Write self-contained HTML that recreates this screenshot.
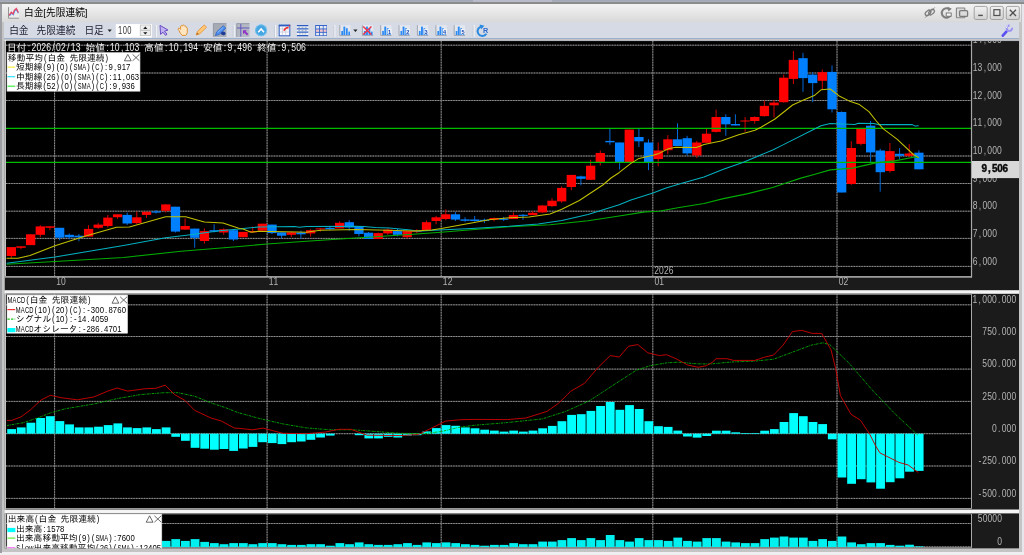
<!DOCTYPE html>
<html lang="ja"><head><meta charset="utf-8"><title>白金[先限連続]</title><style>
html,body{margin:0;padding:0}
body{width:1024px;height:555px;overflow:hidden;position:relative;background:#e6e6ec;
 font-family:"Liberation Sans","Noto Sans CJK JP",sans-serif}
.abs{position:absolute}
#top{left:0;top:0;width:1024px;height:3.6px;background:linear-gradient(#a2a7b6,#a8adba 40%,#8e8e90 52%,#8a8a8a 88%,#b0b0b0);z-index:3}
#bot{left:0;top:551.6px;width:1024px;height:4px;background:#efeff1}
#lft{left:0;top:0;width:1.8px;height:553px;background:#9c9ea4}
#frame{left:1.8px;top:2.8px;width:1020.2px;height:548.8px;background:#c4c4c4}
#title{left:2.4px;top:3.2px;width:1018.6px;height:19.2px;background:linear-gradient(#f4f4f4,#e9e9e9 42%,#d9d9d9)}
#tool{left:4.4px;top:22.4px;width:1014.8px;height:16.2px;background:#d5dae4;border-bottom:0.8px solid #9fb0cc;box-sizing:border-box}
.t{position:absolute;white-space:nowrap;line-height:1}
</style></head>
<body>
<div id="top" class="abs"></div>
<div class="abs" style="left:473px;top:0;width:79px;height:1.7px;background:#b8bcc8;z-index:4"></div>
<div id="bot" class="abs"></div>
<div id="frame" class="abs"></div>
<div id="lft" class="abs"></div>
<div id="title" class="abs"></div>
<div id="tool" class="abs"></div>
<svg width="1024" height="555" viewBox="0 0 1024 555" style="position:absolute;left:0;top:0" font-family='"Liberation Sans","IPAGothic",sans-serif'>
<rect x="4.7" y="40.0" width="1014.3" height="508.4" fill="#f4f4f4"/>
<rect x="4.7" y="41.0" width="1014.3" height="249.2" fill="#1b1b1b"/>
<rect x="4.7" y="293.8" width="1014.3" height="215.7" fill="#1b1b1b"/>
<rect x="4.7" y="513.4" width="1014.3" height="35.0" fill="#1b1b1b"/>
<rect x="4.7" y="41.0" width="1.2999999999999998" height="236.4" fill="#c2c2c2"/>
<rect x="4.7" y="293.8" width="1.2999999999999998" height="215.7" fill="#c2c2c2"/>
<rect x="4.7" y="513.4" width="1.2999999999999998" height="35.0" fill="#c2c2c2"/>
<rect x="6.0" y="41.0" width="965.5" height="235.6" fill="#000"/>
<rect x="6.0" y="293.8" width="965.5" height="214.8" fill="#000"/>
<rect x="6.0" y="513.4" width="965.5" height="34.4" fill="#000"/>
<defs><clipPath id="cm"><rect x="6.0" y="41.0" width="965.5" height="235.60000000000002"/></clipPath><clipPath id="ck"><rect x="6.0" y="293.8" width="965.5" height="214.8"/></clipPath><clipPath id="cv"><rect x="6.0" y="513.4" width="965.5" height="34.39999999999998"/></clipPath><clipPath id="ca"><rect x="971.5" y="41.0" width="47.5" height="249.2"/></clipPath></defs>
<g clip-path="url(#cm)">
<line x1="6.0" x2="971.5" y1="45.2" y2="45.2" stroke="#606060" stroke-width="0.75"/>
<line x1="6.0" x2="971.5" y1="45.2" y2="45.2" stroke="#a8a8a8" stroke-width="0.75" stroke-dasharray="1.4,1.2"/>
<line x1="6.0" x2="971.5" y1="73.0" y2="73.0" stroke="#606060" stroke-width="0.75"/>
<line x1="6.0" x2="971.5" y1="73.0" y2="73.0" stroke="#a8a8a8" stroke-width="0.75" stroke-dasharray="1.4,1.2"/>
<line x1="6.0" x2="971.5" y1="100.5" y2="100.5" stroke="#606060" stroke-width="0.75"/>
<line x1="6.0" x2="971.5" y1="100.5" y2="100.5" stroke="#a8a8a8" stroke-width="0.75" stroke-dasharray="1.4,1.2"/>
<line x1="6.0" x2="971.5" y1="156.0" y2="156.0" stroke="#606060" stroke-width="0.75"/>
<line x1="6.0" x2="971.5" y1="156.0" y2="156.0" stroke="#a8a8a8" stroke-width="0.75" stroke-dasharray="1.4,1.2"/>
<line x1="6.0" x2="971.5" y1="183.5" y2="183.5" stroke="#606060" stroke-width="0.75"/>
<line x1="6.0" x2="971.5" y1="183.5" y2="183.5" stroke="#a8a8a8" stroke-width="0.75" stroke-dasharray="1.4,1.2"/>
<line x1="6.0" x2="971.5" y1="211.2" y2="211.2" stroke="#606060" stroke-width="0.75"/>
<line x1="6.0" x2="971.5" y1="211.2" y2="211.2" stroke="#a8a8a8" stroke-width="0.75" stroke-dasharray="1.4,1.2"/>
<line x1="6.0" x2="971.5" y1="238.4" y2="238.4" stroke="#606060" stroke-width="0.75"/>
<line x1="6.0" x2="971.5" y1="238.4" y2="238.4" stroke="#a8a8a8" stroke-width="0.75" stroke-dasharray="1.4,1.2"/>
<line x1="6.0" x2="971.5" y1="266.4" y2="266.4" stroke="#606060" stroke-width="0.75"/>
<line x1="6.0" x2="971.5" y1="266.4" y2="266.4" stroke="#a8a8a8" stroke-width="0.75" stroke-dasharray="1.4,1.2"/>
<line x1="54.6" x2="54.6" y1="41.0" y2="276.6" stroke="#606060" stroke-width="0.75"/>
<line x1="54.6" x2="54.6" y1="41.0" y2="276.6" stroke="#a8a8a8" stroke-width="0.75" stroke-dasharray="1.4,1.2"/>
<line x1="267.1" x2="267.1" y1="41.0" y2="276.6" stroke="#606060" stroke-width="0.75"/>
<line x1="267.1" x2="267.1" y1="41.0" y2="276.6" stroke="#a8a8a8" stroke-width="0.75" stroke-dasharray="1.4,1.2"/>
<line x1="441.2" x2="441.2" y1="41.0" y2="276.6" stroke="#606060" stroke-width="0.75"/>
<line x1="441.2" x2="441.2" y1="41.0" y2="276.6" stroke="#a8a8a8" stroke-width="0.75" stroke-dasharray="1.4,1.2"/>
<line x1="652.8" x2="652.8" y1="41.0" y2="276.6" stroke="#606060" stroke-width="0.75"/>
<line x1="652.8" x2="652.8" y1="41.0" y2="276.6" stroke="#a8a8a8" stroke-width="0.75" stroke-dasharray="1.4,1.2"/>
<line x1="837.0" x2="837.0" y1="41.0" y2="276.6" stroke="#606060" stroke-width="0.75"/>
<line x1="837.0" x2="837.0" y1="41.0" y2="276.6" stroke="#a8a8a8" stroke-width="0.75" stroke-dasharray="1.4,1.2"/>
<line x1="11.3" x2="11.3" y1="247.1" y2="258.0" stroke="#d00000" stroke-width="1"/>
<rect x="6.70" y="247.1" width="9.3" height="8.9" fill="#ff0000"/>
<line x1="21.0" x2="21.0" y1="246.3" y2="249.2" stroke="#d00000" stroke-width="1"/>
<rect x="16.36" y="246.3" width="9.3" height="1.5" fill="#ff0000"/>
<line x1="30.6" x2="30.6" y1="234.3" y2="245.1" stroke="#d00000" stroke-width="1"/>
<rect x="26.01" y="234.3" width="9.3" height="10.8" fill="#ff0000"/>
<line x1="40.3" x2="40.3" y1="225.2" y2="237.3" stroke="#d00000" stroke-width="1"/>
<rect x="35.66" y="226.4" width="9.3" height="8.4" fill="#ff0000"/>
<line x1="49.9" x2="49.9" y1="226.3" y2="230.2" stroke="#d00000" stroke-width="1"/>
<rect x="45.32" y="226.3" width="9.3" height="1.5" fill="#ff0000"/>
<line x1="59.6" x2="59.6" y1="227.8" y2="240.4" stroke="#0068d8" stroke-width="1"/>
<rect x="54.98" y="227.8" width="9.3" height="9.9" fill="#0080ff"/>
<line x1="69.2" x2="69.2" y1="233.4" y2="239.3" stroke="#0068d8" stroke-width="1"/>
<rect x="64.63" y="234.8" width="9.3" height="2.5" fill="#0080ff"/>
<line x1="78.9" x2="78.9" y1="234.0" y2="241.3" stroke="#0068d8" stroke-width="1"/>
<rect x="74.28" y="235.7" width="9.3" height="1.6" fill="#0080ff"/>
<line x1="88.5" x2="88.5" y1="225.2" y2="236.6" stroke="#d00000" stroke-width="1"/>
<rect x="83.94" y="228.9" width="9.3" height="7.7" fill="#ff0000"/>
<line x1="98.2" x2="98.2" y1="222.9" y2="228.7" stroke="#d00000" stroke-width="1"/>
<rect x="93.59" y="224.6" width="9.3" height="3.2" fill="#ff0000"/>
<line x1="107.8" x2="107.8" y1="215.0" y2="227.5" stroke="#d00000" stroke-width="1"/>
<rect x="103.25" y="217.6" width="9.3" height="8.4" fill="#ff0000"/>
<line x1="117.5" x2="117.5" y1="214.3" y2="218.8" stroke="#d00000" stroke-width="1"/>
<rect x="112.91" y="214.3" width="9.3" height="2.9" fill="#ff0000"/>
<line x1="127.2" x2="127.2" y1="212.6" y2="224.9" stroke="#0068d8" stroke-width="1"/>
<rect x="122.56" y="214.9" width="9.3" height="8.6" fill="#0080ff"/>
<line x1="136.8" x2="136.8" y1="211.4" y2="224.0" stroke="#d00000" stroke-width="1"/>
<rect x="132.21" y="217.3" width="9.3" height="5.8" fill="#ff0000"/>
<line x1="146.5" x2="146.5" y1="211.8" y2="218.1" stroke="#d00000" stroke-width="1"/>
<rect x="141.87" y="211.8" width="9.3" height="3.1" fill="#ff0000"/>
<line x1="156.1" x2="156.1" y1="210.0" y2="213.4" stroke="#0068d8" stroke-width="1"/>
<rect x="151.52" y="211.4" width="9.3" height="1.2" fill="#0080ff"/>
<line x1="165.8" x2="165.8" y1="204.4" y2="212.6" stroke="#d00000" stroke-width="1"/>
<rect x="161.18" y="204.4" width="9.3" height="6.4" fill="#ff0000"/>
<line x1="175.4" x2="175.4" y1="206.7" y2="232.5" stroke="#0068d8" stroke-width="1"/>
<rect x="170.83" y="206.7" width="9.3" height="24.9" fill="#0080ff"/>
<line x1="185.1" x2="185.1" y1="218.4" y2="229.6" stroke="#d00000" stroke-width="1"/>
<rect x="180.49" y="226.0" width="9.3" height="3.6" fill="#ff0000"/>
<line x1="194.7" x2="194.7" y1="228.6" y2="247.7" stroke="#0068d8" stroke-width="1"/>
<rect x="190.14" y="228.6" width="9.3" height="9.2" fill="#0080ff"/>
<line x1="204.4" x2="204.4" y1="228.4" y2="243.6" stroke="#d00000" stroke-width="1"/>
<rect x="199.80" y="231.1" width="9.3" height="9.9" fill="#ff0000"/>
<line x1="214.1" x2="214.1" y1="224.3" y2="232.5" stroke="#0068d8" stroke-width="1"/>
<rect x="209.45" y="230.2" width="9.3" height="1.4" fill="#0080ff"/>
<line x1="223.7" x2="223.7" y1="228.4" y2="234.8" stroke="#d00000" stroke-width="1"/>
<rect x="219.11" y="229.3" width="9.3" height="3.2" fill="#ff0000"/>
<line x1="233.4" x2="233.4" y1="229.0" y2="241.0" stroke="#0068d8" stroke-width="1"/>
<rect x="228.76" y="230.2" width="9.3" height="9.3" fill="#0080ff"/>
<line x1="243.0" x2="243.0" y1="231.9" y2="237.2" stroke="#d00000" stroke-width="1"/>
<rect x="238.42" y="231.9" width="9.3" height="5.3" fill="#ff0000"/>
<line x1="252.7" x2="252.7" y1="226.6" y2="233.0" stroke="#d00000" stroke-width="1"/>
<rect x="248.07" y="231.0" width="9.3" height="1.3" fill="#ff0000"/>
<line x1="262.3" x2="262.3" y1="223.7" y2="230.7" stroke="#d00000" stroke-width="1"/>
<rect x="257.73" y="223.7" width="9.3" height="7.0" fill="#ff0000"/>
<line x1="272.0" x2="272.0" y1="224.6" y2="234.0" stroke="#0068d8" stroke-width="1"/>
<rect x="267.38" y="224.6" width="9.3" height="8.5" fill="#0080ff"/>
<line x1="281.6" x2="281.6" y1="232.3" y2="238.6" stroke="#0068d8" stroke-width="1"/>
<rect x="277.04" y="232.3" width="9.3" height="3.4" fill="#0080ff"/>
<line x1="291.3" x2="291.3" y1="231.6" y2="237.2" stroke="#d00000" stroke-width="1"/>
<rect x="286.69" y="232.3" width="9.3" height="2.5" fill="#ff0000"/>
<line x1="300.9" x2="300.9" y1="230.7" y2="238.9" stroke="#0068d8" stroke-width="1"/>
<rect x="296.35" y="232.5" width="9.3" height="1.8" fill="#0080ff"/>
<line x1="310.6" x2="310.6" y1="229.2" y2="236.6" stroke="#d00000" stroke-width="1"/>
<rect x="306.00" y="230.2" width="9.3" height="3.2" fill="#ff0000"/>
<line x1="320.3" x2="320.3" y1="228.4" y2="231.6" stroke="#d00000" stroke-width="1"/>
<rect x="315.66" y="228.4" width="9.3" height="1.0" fill="#ff0000"/>
<line x1="329.9" x2="329.9" y1="226.0" y2="230.0" stroke="#0068d8" stroke-width="1"/>
<rect x="325.31" y="227.8" width="9.3" height="1.4" fill="#0080ff"/>
<line x1="339.6" x2="339.6" y1="221.4" y2="228.4" stroke="#d00000" stroke-width="1"/>
<rect x="334.97" y="222.8" width="9.3" height="5.6" fill="#ff0000"/>
<line x1="349.2" x2="349.2" y1="220.2" y2="230.7" stroke="#0068d8" stroke-width="1"/>
<rect x="344.62" y="222.2" width="9.3" height="5.4" fill="#0080ff"/>
<line x1="358.9" x2="358.9" y1="226.0" y2="236.3" stroke="#0068d8" stroke-width="1"/>
<rect x="354.28" y="226.0" width="9.3" height="8.0" fill="#0080ff"/>
<line x1="368.5" x2="368.5" y1="232.0" y2="239.0" stroke="#0068d8" stroke-width="1"/>
<rect x="363.93" y="232.7" width="9.3" height="6.3" fill="#0080ff"/>
<line x1="378.2" x2="378.2" y1="232.6" y2="239.0" stroke="#d00000" stroke-width="1"/>
<rect x="373.59" y="233.1" width="9.3" height="5.9" fill="#ff0000"/>
<line x1="387.8" x2="387.8" y1="228.4" y2="234.8" stroke="#d00000" stroke-width="1"/>
<rect x="383.24" y="229.6" width="9.3" height="3.8" fill="#ff0000"/>
<line x1="397.5" x2="397.5" y1="229.0" y2="236.3" stroke="#0068d8" stroke-width="1"/>
<rect x="392.90" y="231.1" width="9.3" height="3.7" fill="#0080ff"/>
<line x1="407.2" x2="407.2" y1="231.1" y2="238.4" stroke="#d00000" stroke-width="1"/>
<rect x="402.55" y="231.1" width="9.3" height="6.1" fill="#ff0000"/>
<line x1="416.8" x2="416.8" y1="229.2" y2="233.1" stroke="#d00000" stroke-width="1"/>
<rect x="412.21" y="231.1" width="9.3" height="1.0" fill="#ff0000"/>
<line x1="426.5" x2="426.5" y1="220.5" y2="229.9" stroke="#d00000" stroke-width="1"/>
<rect x="421.86" y="222.2" width="9.3" height="7.7" fill="#ff0000"/>
<line x1="436.1" x2="436.1" y1="215.9" y2="224.3" stroke="#d00000" stroke-width="1"/>
<rect x="431.52" y="217.3" width="9.3" height="3.7" fill="#ff0000"/>
<line x1="445.8" x2="445.8" y1="209.3" y2="220.2" stroke="#d00000" stroke-width="1"/>
<rect x="441.17" y="214.3" width="9.3" height="4.7" fill="#ff0000"/>
<line x1="455.4" x2="455.4" y1="212.0" y2="221.0" stroke="#0068d8" stroke-width="1"/>
<rect x="450.83" y="214.3" width="9.3" height="5.3" fill="#0080ff"/>
<line x1="465.1" x2="465.1" y1="217.3" y2="221.7" stroke="#0068d8" stroke-width="1"/>
<rect x="460.48" y="219.4" width="9.3" height="1.4" fill="#0080ff"/>
<line x1="474.7" x2="474.7" y1="216.0" y2="221.6" stroke="#0068d8" stroke-width="1"/>
<rect x="470.14" y="219.5" width="9.3" height="1.5" fill="#0080ff"/>
<line x1="484.4" x2="484.4" y1="218.6" y2="223.0" stroke="#0068d8" stroke-width="1"/>
<rect x="479.79" y="219.8" width="9.3" height="1.2" fill="#0080ff"/>
<line x1="494.0" x2="494.0" y1="217.6" y2="221.3" stroke="#d00000" stroke-width="1"/>
<rect x="489.45" y="218.0" width="9.3" height="1.8" fill="#ff0000"/>
<line x1="503.7" x2="503.7" y1="216.9" y2="221.0" stroke="#0068d8" stroke-width="1"/>
<rect x="499.10" y="218.6" width="9.3" height="1.2" fill="#0080ff"/>
<line x1="513.4" x2="513.4" y1="212.4" y2="219.0" stroke="#d00000" stroke-width="1"/>
<rect x="508.76" y="215.1" width="9.3" height="3.9" fill="#ff0000"/>
<line x1="523.0" x2="523.0" y1="214.0" y2="219.8" stroke="#0068d8" stroke-width="1"/>
<rect x="518.41" y="214.8" width="9.3" height="1.1" fill="#0080ff"/>
<line x1="532.7" x2="532.7" y1="211.0" y2="215.1" stroke="#d00000" stroke-width="1"/>
<rect x="528.07" y="212.8" width="9.3" height="2.3" fill="#ff0000"/>
<line x1="542.3" x2="542.3" y1="205.0" y2="212.8" stroke="#d00000" stroke-width="1"/>
<rect x="537.73" y="205.5" width="9.3" height="6.9" fill="#ff0000"/>
<line x1="552.0" x2="552.0" y1="198.1" y2="206.9" stroke="#d00000" stroke-width="1"/>
<rect x="547.38" y="200.7" width="9.3" height="5.4" fill="#ff0000"/>
<line x1="561.6" x2="561.6" y1="186.4" y2="202.8" stroke="#d00000" stroke-width="1"/>
<rect x="557.03" y="187.9" width="9.3" height="13.5" fill="#ff0000"/>
<line x1="571.3" x2="571.3" y1="174.9" y2="190.2" stroke="#d00000" stroke-width="1"/>
<rect x="566.69" y="174.9" width="9.3" height="12.1" fill="#ff0000"/>
<line x1="580.9" x2="580.9" y1="175.6" y2="185.2" stroke="#0068d8" stroke-width="1"/>
<rect x="576.35" y="176.4" width="9.3" height="2.4" fill="#0080ff"/>
<line x1="590.6" x2="590.6" y1="159.8" y2="179.8" stroke="#d00000" stroke-width="1"/>
<rect x="586.00" y="165.7" width="9.3" height="14.1" fill="#ff0000"/>
<line x1="600.3" x2="600.3" y1="150.5" y2="165.5" stroke="#d00000" stroke-width="1"/>
<rect x="595.65" y="153.0" width="9.3" height="9.2" fill="#ff0000"/>
<line x1="609.9" x2="609.9" y1="128.8" y2="144.8" stroke="#0068d8" stroke-width="1"/>
<rect x="605.31" y="140.9" width="9.3" height="1.4" fill="#0080ff"/>
<line x1="619.6" x2="619.6" y1="142.5" y2="169.5" stroke="#0068d8" stroke-width="1"/>
<rect x="614.97" y="142.5" width="9.3" height="19.7" fill="#0080ff"/>
<line x1="629.2" x2="629.2" y1="129.6" y2="163.0" stroke="#d00000" stroke-width="1"/>
<rect x="624.62" y="129.6" width="9.3" height="32.6" fill="#ff0000"/>
<line x1="638.9" x2="638.9" y1="128.8" y2="147.0" stroke="#0068d8" stroke-width="1"/>
<rect x="634.27" y="137.0" width="9.3" height="4.3" fill="#0080ff"/>
<line x1="648.5" x2="648.5" y1="139.3" y2="170.2" stroke="#0068d8" stroke-width="1"/>
<rect x="643.93" y="142.5" width="9.3" height="19.9" fill="#0080ff"/>
<line x1="658.2" x2="658.2" y1="142.3" y2="166.3" stroke="#d00000" stroke-width="1"/>
<rect x="653.59" y="150.5" width="9.3" height="8.5" fill="#ff0000"/>
<line x1="667.8" x2="667.8" y1="135.2" y2="154.2" stroke="#d00000" stroke-width="1"/>
<rect x="663.24" y="139.3" width="9.3" height="10.9" fill="#ff0000"/>
<line x1="677.5" x2="677.5" y1="123.3" y2="146.0" stroke="#0068d8" stroke-width="1"/>
<rect x="672.89" y="139.3" width="9.3" height="6.7" fill="#0080ff"/>
<line x1="687.1" x2="687.1" y1="135.8" y2="155.7" stroke="#0068d8" stroke-width="1"/>
<rect x="682.55" y="138.2" width="9.3" height="15.2" fill="#0080ff"/>
<line x1="696.8" x2="696.8" y1="140.9" y2="158.1" stroke="#d00000" stroke-width="1"/>
<rect x="692.21" y="142.5" width="9.3" height="13.0" fill="#ff0000"/>
<line x1="706.5" x2="706.5" y1="129.0" y2="142.8" stroke="#d00000" stroke-width="1"/>
<rect x="701.86" y="133.7" width="9.3" height="9.1" fill="#ff0000"/>
<line x1="716.1" x2="716.1" y1="109.6" y2="132.5" stroke="#d00000" stroke-width="1"/>
<rect x="711.51" y="117.0" width="9.3" height="14.9" fill="#ff0000"/>
<line x1="725.8" x2="725.8" y1="114.3" y2="135.8" stroke="#0068d8" stroke-width="1"/>
<rect x="721.17" y="117.0" width="9.3" height="7.3" fill="#0080ff"/>
<line x1="735.4" x2="735.4" y1="114.3" y2="125.5" stroke="#0068d8" stroke-width="1"/>
<rect x="730.83" y="124.0" width="9.3" height="1.5" fill="#0080ff"/>
<line x1="745.1" x2="745.1" y1="117.0" y2="131.6" stroke="#d00000" stroke-width="1"/>
<rect x="740.48" y="120.5" width="9.3" height="1.0" fill="#ff0000"/>
<line x1="754.7" x2="754.7" y1="116.4" y2="123.7" stroke="#d00000" stroke-width="1"/>
<rect x="750.13" y="117.0" width="9.3" height="4.0" fill="#ff0000"/>
<line x1="764.4" x2="764.4" y1="100.6" y2="116.6" stroke="#d00000" stroke-width="1"/>
<rect x="759.79" y="105.9" width="9.3" height="10.2" fill="#ff0000"/>
<line x1="774.0" x2="774.0" y1="99.9" y2="117.5" stroke="#d00000" stroke-width="1"/>
<rect x="769.45" y="102.6" width="9.3" height="2.7" fill="#ff0000"/>
<line x1="783.7" x2="783.7" y1="74.6" y2="102.6" stroke="#d00000" stroke-width="1"/>
<rect x="779.10" y="77.7" width="9.3" height="24.5" fill="#ff0000"/>
<line x1="793.4" x2="793.4" y1="51.1" y2="84.0" stroke="#d00000" stroke-width="1"/>
<rect x="788.75" y="59.9" width="9.3" height="19.0" fill="#ff0000"/>
<line x1="803.0" x2="803.0" y1="52.9" y2="91.8" stroke="#0068d8" stroke-width="1"/>
<rect x="798.41" y="58.2" width="9.3" height="19.9" fill="#0080ff"/>
<line x1="812.7" x2="812.7" y1="72.2" y2="102.1" stroke="#0068d8" stroke-width="1"/>
<rect x="808.06" y="74.6" width="9.3" height="8.5" fill="#0080ff"/>
<line x1="822.3" x2="822.3" y1="69.5" y2="89.2" stroke="#d00000" stroke-width="1"/>
<rect x="817.72" y="72.2" width="9.3" height="8.6" fill="#ff0000"/>
<line x1="832.0" x2="832.0" y1="65.5" y2="112.5" stroke="#0068d8" stroke-width="1"/>
<rect x="827.38" y="71.9" width="9.3" height="37.4" fill="#0080ff"/>
<line x1="841.6" x2="841.6" y1="111.4" y2="192.5" stroke="#0068d8" stroke-width="1"/>
<rect x="837.03" y="112.0" width="9.3" height="80.5" fill="#0080ff"/>
<line x1="851.3" x2="851.3" y1="141.2" y2="184.8" stroke="#d00000" stroke-width="1"/>
<rect x="846.68" y="148.0" width="9.3" height="36.0" fill="#ff0000"/>
<line x1="860.9" x2="860.9" y1="128.0" y2="145.3" stroke="#d00000" stroke-width="1"/>
<rect x="856.34" y="128.7" width="9.3" height="15.2" fill="#ff0000"/>
<line x1="870.6" x2="870.6" y1="121.0" y2="162.3" stroke="#0068d8" stroke-width="1"/>
<rect x="866.00" y="125.7" width="9.3" height="26.7" fill="#0080ff"/>
<line x1="880.2" x2="880.2" y1="148.8" y2="191.6" stroke="#0068d8" stroke-width="1"/>
<rect x="875.65" y="150.5" width="9.3" height="21.7" fill="#0080ff"/>
<line x1="889.9" x2="889.9" y1="143.0" y2="172.6" stroke="#d00000" stroke-width="1"/>
<rect x="885.30" y="151.1" width="9.3" height="19.9" fill="#ff0000"/>
<line x1="899.6" x2="899.6" y1="148.0" y2="159.3" stroke="#0068d8" stroke-width="1"/>
<rect x="894.96" y="153.8" width="9.3" height="2.0" fill="#0080ff"/>
<line x1="909.2" x2="909.2" y1="144.1" y2="157.3" stroke="#d00000" stroke-width="1"/>
<rect x="904.62" y="153.5" width="9.3" height="2.3" fill="#ff0000"/>
<line x1="918.9" x2="918.9" y1="150.3" y2="169.3" stroke="#0068d8" stroke-width="1"/>
<rect x="914.27" y="152.7" width="9.3" height="16.6" fill="#0080ff"/>
<line x1="6.0" x2="971.5" y1="128.3" y2="128.3" stroke="#00bc00" stroke-width="1.25"/>
<line x1="6.0" x2="971.5" y1="162.4" y2="162.4" stroke="#00bc00" stroke-width="1.25"/>
<polyline points="6.6,264.2 55.0,261.5 123.5,257.5 181.0,251.2 239.5,246.5 267.0,244.0 306.3,241.3 355.5,238.0 382.5,236.3 413.0,234.3 441.0,232.3 471.5,229.8 509.0,226.8 550.0,224.8 588.0,220.7 619.2,216.0 645.0,211.9 659.0,211.3 677.8,207.8 704.0,203.5 723.4,198.6 746.9,193.9 772.7,187.5 786.7,182.8 800.8,178.1 815.0,174.3 830.2,169.9 852.5,168.1 876.0,162.9 894.7,160.9 914.6,157.0 918.7,157.6" fill="none" stroke="#00ac00" stroke-width="1.15" stroke-linejoin="round"/>
<polyline points="6.6,263.3 55.0,257.0 123.5,245.5 165.7,237.8 190.3,234.8 219.6,230.7 239.5,229.0 243.0,228.4 259.4,226.9 294.6,226.4 299.3,227.2 306.3,226.4 355.5,226.2 363.7,226.4 375.4,227.6 389.5,228.0 410.6,229.9 417.6,231.3 434.0,230.2 471.5,228.4 509.0,226.3 538.3,223.9 561.8,220.4 588.0,214.5 619.2,204.8 630.9,199.9 653.0,193.1 666.0,187.9 683.6,182.8 704.0,177.0 723.4,169.3 743.4,162.3 772.7,150.0 782.0,145.4 815.0,128.7 821.0,125.7 830.2,123.4 854.8,124.6 858.4,123.2 873.6,123.4 878.3,124.6 912.3,124.6 915.2,126.1 918.7,125.7" fill="none" stroke="#00b0c0" stroke-width="1.05" stroke-linejoin="round"/>
<polyline points="6.6,258.2 18.0,258.2 30.0,255.5 55.0,245.7 84.0,236.6 116.5,227.2 129.4,226.9 165.7,216.7 185.6,216.7 204.4,222.0 223.0,223.1 239.5,228.4 243.0,229.0 251.2,232.3 258.3,231.3 297.0,231.9 306.3,232.3 320.4,230.2 355.5,229.6 387.2,230.2 413.0,231.1 431.7,229.9 441.3,228.4 471.5,222.9 489.0,219.8 509.0,217.8 529.0,216.9 550.0,213.9 561.8,209.3 579.3,200.5 588.0,194.8 602.8,185.0 611.0,178.0 619.0,172.7 630.9,163.4 639.0,158.4 653.0,155.2 659.0,153.4 668.4,148.7 675.4,147.2 696.5,147.5 704.0,144.6 721.0,140.9 738.7,134.8 755.0,130.2 761.0,127.2 775.0,119.0 792.6,105.0 803.0,100.3 814.3,95.6 821.0,89.8 830.3,89.0 839.7,96.3 849.0,100.9 859.5,104.6 868.9,111.7 875.9,120.5 883.0,128.7 897.0,139.2 913.4,154.5 918.7,157.6" fill="none" stroke="#c0c000" stroke-width="1.05" stroke-linejoin="round"/>
</g>
<path d="M4.7,276.90000000000003 H971.5" fill="none" stroke="#9c9c9c" stroke-width="1.7"/>
<path d="M971.5,277.70000000000005 V41.0" fill="none" stroke="#a8a8a8" stroke-width="1.2"/>
<line x1="6.0" x2="1019.0" y1="40.6" y2="40.6" stroke="#9aa0aa" stroke-width="0.8"/>
<g clip-path="url(#ck)">
<line x1="6.0" x2="971.5" y1="304.8" y2="304.8" stroke="#606060" stroke-width="0.75"/>
<line x1="6.0" x2="971.5" y1="304.8" y2="304.8" stroke="#a8a8a8" stroke-width="0.75" stroke-dasharray="1.4,1.2"/>
<line x1="6.0" x2="971.5" y1="336.5" y2="336.5" stroke="#606060" stroke-width="0.75"/>
<line x1="6.0" x2="971.5" y1="336.5" y2="336.5" stroke="#a8a8a8" stroke-width="0.75" stroke-dasharray="1.4,1.2"/>
<line x1="6.0" x2="971.5" y1="369.1" y2="369.1" stroke="#606060" stroke-width="0.75"/>
<line x1="6.0" x2="971.5" y1="369.1" y2="369.1" stroke="#a8a8a8" stroke-width="0.75" stroke-dasharray="1.4,1.2"/>
<line x1="6.0" x2="971.5" y1="401.4" y2="401.4" stroke="#606060" stroke-width="0.75"/>
<line x1="6.0" x2="971.5" y1="401.4" y2="401.4" stroke="#a8a8a8" stroke-width="0.75" stroke-dasharray="1.4,1.2"/>
<line x1="6.0" x2="971.5" y1="433.7" y2="433.7" stroke="#606060" stroke-width="0.75"/>
<line x1="6.0" x2="971.5" y1="433.7" y2="433.7" stroke="#a8a8a8" stroke-width="0.75" stroke-dasharray="1.4,1.2"/>
<line x1="6.0" x2="971.5" y1="466.0" y2="466.0" stroke="#606060" stroke-width="0.75"/>
<line x1="6.0" x2="971.5" y1="466.0" y2="466.0" stroke="#a8a8a8" stroke-width="0.75" stroke-dasharray="1.4,1.2"/>
<line x1="6.0" x2="971.5" y1="498.4" y2="498.4" stroke="#606060" stroke-width="0.75"/>
<line x1="6.0" x2="971.5" y1="498.4" y2="498.4" stroke="#a8a8a8" stroke-width="0.75" stroke-dasharray="1.4,1.2"/>
<line x1="54.6" x2="54.6" y1="293.8" y2="508.6" stroke="#606060" stroke-width="0.75"/>
<line x1="54.6" x2="54.6" y1="293.8" y2="508.6" stroke="#a8a8a8" stroke-width="0.75" stroke-dasharray="1.4,1.2"/>
<line x1="267.1" x2="267.1" y1="293.8" y2="508.6" stroke="#606060" stroke-width="0.75"/>
<line x1="267.1" x2="267.1" y1="293.8" y2="508.6" stroke="#a8a8a8" stroke-width="0.75" stroke-dasharray="1.4,1.2"/>
<line x1="441.2" x2="441.2" y1="293.8" y2="508.6" stroke="#606060" stroke-width="0.75"/>
<line x1="441.2" x2="441.2" y1="293.8" y2="508.6" stroke="#a8a8a8" stroke-width="0.75" stroke-dasharray="1.4,1.2"/>
<line x1="652.8" x2="652.8" y1="293.8" y2="508.6" stroke="#606060" stroke-width="0.75"/>
<line x1="652.8" x2="652.8" y1="293.8" y2="508.6" stroke="#a8a8a8" stroke-width="0.75" stroke-dasharray="1.4,1.2"/>
<line x1="837.0" x2="837.0" y1="293.8" y2="508.6" stroke="#606060" stroke-width="0.75"/>
<line x1="837.0" x2="837.0" y1="293.8" y2="508.6" stroke="#a8a8a8" stroke-width="0.75" stroke-dasharray="1.4,1.2"/>
<rect x="7.20" y="429.1" width="8.8" height="4.6" fill="#00ffff"/>
<rect x="16.86" y="427.4" width="8.8" height="6.3" fill="#00ffff"/>
<rect x="26.51" y="422.7" width="8.8" height="11.0" fill="#00ffff"/>
<rect x="36.16" y="418.0" width="8.8" height="15.7" fill="#00ffff"/>
<rect x="45.82" y="416.2" width="8.8" height="17.5" fill="#00ffff"/>
<rect x="55.48" y="421.1" width="8.8" height="12.6" fill="#00ffff"/>
<rect x="65.13" y="424.4" width="8.8" height="9.3" fill="#00ffff"/>
<rect x="74.78" y="427.4" width="8.8" height="6.3" fill="#00ffff"/>
<rect x="84.44" y="427.4" width="8.8" height="6.3" fill="#00ffff"/>
<rect x="94.09" y="426.7" width="8.8" height="7.0" fill="#00ffff"/>
<rect x="103.75" y="425.1" width="8.8" height="8.6" fill="#00ffff"/>
<rect x="113.41" y="423.4" width="8.8" height="10.3" fill="#00ffff"/>
<rect x="123.06" y="427.4" width="8.8" height="6.3" fill="#00ffff"/>
<rect x="132.71" y="428.1" width="8.8" height="5.6" fill="#00ffff"/>
<rect x="142.37" y="427.4" width="8.8" height="6.3" fill="#00ffff"/>
<rect x="152.02" y="429.1" width="8.8" height="4.6" fill="#00ffff"/>
<rect x="161.68" y="427.4" width="8.8" height="6.3" fill="#00ffff"/>
<rect x="171.33" y="433.7" width="8.8" height="3.1" fill="#00ffff"/>
<rect x="180.99" y="433.7" width="8.8" height="7.1" fill="#00ffff"/>
<rect x="190.64" y="433.7" width="8.8" height="14.1" fill="#00ffff"/>
<rect x="200.30" y="433.7" width="8.8" height="15.0" fill="#00ffff"/>
<rect x="209.95" y="433.7" width="8.8" height="16.0" fill="#00ffff"/>
<rect x="219.61" y="433.7" width="8.8" height="15.3" fill="#00ffff"/>
<rect x="229.26" y="433.7" width="8.8" height="17.2" fill="#00ffff"/>
<rect x="238.92" y="433.7" width="8.8" height="14.8" fill="#00ffff"/>
<rect x="248.57" y="433.7" width="8.8" height="13.2" fill="#00ffff"/>
<rect x="258.23" y="433.7" width="8.8" height="8.5" fill="#00ffff"/>
<rect x="267.88" y="433.7" width="8.8" height="9.4" fill="#00ffff"/>
<rect x="277.54" y="433.7" width="8.8" height="10.4" fill="#00ffff"/>
<rect x="287.19" y="433.7" width="8.8" height="8.5" fill="#00ffff"/>
<rect x="296.85" y="433.7" width="8.8" height="7.8" fill="#00ffff"/>
<rect x="306.50" y="433.7" width="8.8" height="6.1" fill="#00ffff"/>
<rect x="316.16" y="433.7" width="8.8" height="3.8" fill="#00ffff"/>
<rect x="325.81" y="433.7" width="8.8" height="1.9" fill="#00ffff"/>
<rect x="354.78" y="433.7" width="8.8" height="1.5" fill="#00ffff"/>
<rect x="364.43" y="433.7" width="8.8" height="4.7" fill="#00ffff"/>
<rect x="374.09" y="433.7" width="8.8" height="4.7" fill="#00ffff"/>
<rect x="383.74" y="433.7" width="8.8" height="3.1" fill="#00ffff"/>
<rect x="393.40" y="433.7" width="8.8" height="3.8" fill="#00ffff"/>
<rect x="403.05" y="433.7" width="8.8" height="1.9" fill="#00ffff"/>
<rect x="412.71" y="433.7" width="8.8" height="1.5" fill="#00ffff"/>
<rect x="422.36" y="431.4" width="8.8" height="2.3" fill="#00ffff"/>
<rect x="432.02" y="428.1" width="8.8" height="5.6" fill="#00ffff"/>
<rect x="441.67" y="425.1" width="8.8" height="8.6" fill="#00ffff"/>
<rect x="451.33" y="425.8" width="8.8" height="7.9" fill="#00ffff"/>
<rect x="460.98" y="427.4" width="8.8" height="6.3" fill="#00ffff"/>
<rect x="470.64" y="428.3" width="8.8" height="5.4" fill="#00ffff"/>
<rect x="480.29" y="429.7" width="8.8" height="4.0" fill="#00ffff"/>
<rect x="489.95" y="430.6" width="8.8" height="3.1" fill="#00ffff"/>
<rect x="499.60" y="431.6" width="8.8" height="2.1" fill="#00ffff"/>
<rect x="509.26" y="430.6" width="8.8" height="3.1" fill="#00ffff"/>
<rect x="518.91" y="431.6" width="8.8" height="2.1" fill="#00ffff"/>
<rect x="528.57" y="430.6" width="8.8" height="3.1" fill="#00ffff"/>
<rect x="538.23" y="428.3" width="8.8" height="5.4" fill="#00ffff"/>
<rect x="547.88" y="425.9" width="8.8" height="7.8" fill="#00ffff"/>
<rect x="557.53" y="421.2" width="8.8" height="12.5" fill="#00ffff"/>
<rect x="567.19" y="414.9" width="8.8" height="18.8" fill="#00ffff"/>
<rect x="576.85" y="414.2" width="8.8" height="19.5" fill="#00ffff"/>
<rect x="586.50" y="410.9" width="8.8" height="22.8" fill="#00ffff"/>
<rect x="596.15" y="406.0" width="8.8" height="27.7" fill="#00ffff"/>
<rect x="605.81" y="402.0" width="8.8" height="31.7" fill="#00ffff"/>
<rect x="615.47" y="409.8" width="8.8" height="23.9" fill="#00ffff"/>
<rect x="625.12" y="405.1" width="8.8" height="28.6" fill="#00ffff"/>
<rect x="634.77" y="409.0" width="8.8" height="24.7" fill="#00ffff"/>
<rect x="644.43" y="421.2" width="8.8" height="12.5" fill="#00ffff"/>
<rect x="654.09" y="426.2" width="8.8" height="7.5" fill="#00ffff"/>
<rect x="663.74" y="426.9" width="8.8" height="6.8" fill="#00ffff"/>
<rect x="673.39" y="430.6" width="8.8" height="3.1" fill="#00ffff"/>
<rect x="683.05" y="433.7" width="8.8" height="2.8" fill="#00ffff"/>
<rect x="692.71" y="433.7" width="8.8" height="3.9" fill="#00ffff"/>
<rect x="702.36" y="433.7" width="8.8" height="2.3" fill="#00ffff"/>
<rect x="712.01" y="430.7" width="8.8" height="3.0" fill="#00ffff"/>
<rect x="721.67" y="430.7" width="8.8" height="3.0" fill="#00ffff"/>
<rect x="731.33" y="432.3" width="8.8" height="1.4" fill="#00ffff"/>
<rect x="740.98" y="433.0" width="8.8" height="0.7" fill="#00ffff"/>
<rect x="750.63" y="433.0" width="8.8" height="0.7" fill="#00ffff"/>
<rect x="760.29" y="430.7" width="8.8" height="3.0" fill="#00ffff"/>
<rect x="769.95" y="429.1" width="8.8" height="4.6" fill="#00ffff"/>
<rect x="779.60" y="422.0" width="8.8" height="11.7" fill="#00ffff"/>
<rect x="789.25" y="413.1" width="8.8" height="20.6" fill="#00ffff"/>
<rect x="798.91" y="416.2" width="8.8" height="17.5" fill="#00ffff"/>
<rect x="808.56" y="422.0" width="8.8" height="11.7" fill="#00ffff"/>
<rect x="818.22" y="424.1" width="8.8" height="9.6" fill="#00ffff"/>
<rect x="827.88" y="433.7" width="8.8" height="5.6" fill="#00ffff"/>
<rect x="837.53" y="433.7" width="8.8" height="43.8" fill="#00ffff"/>
<rect x="847.18" y="433.7" width="8.8" height="50.1" fill="#00ffff"/>
<rect x="856.84" y="433.7" width="8.8" height="45.5" fill="#00ffff"/>
<rect x="866.50" y="433.7" width="8.8" height="48.7" fill="#00ffff"/>
<rect x="876.15" y="433.7" width="8.8" height="55.0" fill="#00ffff"/>
<rect x="885.80" y="433.7" width="8.8" height="48.5" fill="#00ffff"/>
<rect x="895.46" y="433.7" width="8.8" height="44.6" fill="#00ffff"/>
<rect x="905.12" y="433.7" width="8.8" height="38.0" fill="#00ffff"/>
<rect x="914.77" y="433.7" width="8.8" height="37.2" fill="#00ffff"/>
<polyline points="7.0,425.5 23.4,422.7 37.5,418.0 50.4,412.9 65.6,408.7 93.7,404.0 117.2,398.6 140.6,394.6 164.0,392.7 178.0,392.7 194.5,396.2 211.0,402.8 225.0,407.5 238.0,412.6 259.4,418.5 282.9,423.9 306.3,427.9 329.7,429.8 353.2,429.8 376.6,431.6 400.0,433.3 423.5,433.7 442.2,431.4 458.6,427.4 474.0,425.3 507.2,422.6 542.3,418.9 565.7,411.4 589.2,400.9 612.6,385.6 636.0,370.4 650.1,365.7 666.5,362.9 678.2,362.2 697.0,363.8 710.0,364.0 731.4,362.0 754.9,361.1 773.6,359.2 792.4,352.2 811.1,345.2 822.8,342.8 829.9,344.7 848.6,362.7 872.0,389.7 895.5,414.3 917.6,434.9" fill="none" stroke="#00a800" stroke-width="0.95" stroke-dasharray="2.4,0.8,0.8,0.8" stroke-linejoin="round"/>
<polyline points="7.0,420.4 11.7,420.4 21.0,416.9 30.5,409.8 41.0,400.0 50.4,395.3 61.0,397.7 77.3,399.8 93.7,397.0 107.8,391.1 117.2,388.0 127.7,391.1 145.3,388.7 155.8,388.3 165.2,385.2 174.6,394.6 185.1,400.5 194.5,410.3 211.0,418.0 221.5,421.1 234.4,428.1 240.0,428.4 252.4,429.8 263.0,428.1 282.9,433.3 306.3,433.7 325.0,432.1 339.1,429.3 350.8,429.3 367.2,435.2 400.0,435.6 418.8,434.4 432.9,427.4 445.7,421.1 461.0,419.7 476.0,419.4 507.2,419.6 525.9,418.0 547.0,411.4 558.7,403.2 570.4,391.5 584.5,383.3 598.6,366.9 610.3,355.6 619.2,357.0 628.6,346.2 637.9,344.6 647.8,352.8 659.5,355.6 666.5,354.7 675.9,358.7 687.6,365.0 698.2,367.3 706.4,365.7 712.0,362.5 716.2,358.7 726.7,358.7 733.8,360.4 754.9,360.4 764.2,357.3 773.6,355.0 783.0,345.2 792.4,331.6 801.7,330.4 812.3,333.4 821.7,333.4 831.0,349.8 835.7,368.6 840.4,395.5 851.0,414.3 860.3,420.1 869.7,434.1 875.2,445.1 879.9,452.9 887.8,456.8 898.7,462.3 908.2,465.0 918.3,472.5" fill="none" stroke="#c40000" stroke-width="0.95" stroke-linejoin="round"/>
</g>
<path d="M6.0,294.2 H971.5 V508.6 H6.0" fill="none" stroke="#a8a8a8" stroke-width="1.0"/>
<g clip-path="url(#cv)">
<line x1="6.0" x2="971.5" y1="523.5" y2="523.5" stroke="#606060" stroke-width="0.75"/>
<line x1="6.0" x2="971.5" y1="523.5" y2="523.5" stroke="#a8a8a8" stroke-width="0.75" stroke-dasharray="1.4,1.2"/>
<line x1="6.0" x2="971.5" y1="546.8" y2="546.8" stroke="#606060" stroke-width="0.75"/>
<line x1="6.0" x2="971.5" y1="546.8" y2="546.8" stroke="#a8a8a8" stroke-width="0.75" stroke-dasharray="1.4,1.2"/>
<line x1="54.6" x2="54.6" y1="513.4" y2="547.8" stroke="#606060" stroke-width="0.75"/>
<line x1="54.6" x2="54.6" y1="513.4" y2="547.8" stroke="#a8a8a8" stroke-width="0.75" stroke-dasharray="1.4,1.2"/>
<line x1="267.1" x2="267.1" y1="513.4" y2="547.8" stroke="#606060" stroke-width="0.75"/>
<line x1="267.1" x2="267.1" y1="513.4" y2="547.8" stroke="#a8a8a8" stroke-width="0.75" stroke-dasharray="1.4,1.2"/>
<line x1="441.2" x2="441.2" y1="513.4" y2="547.8" stroke="#606060" stroke-width="0.75"/>
<line x1="441.2" x2="441.2" y1="513.4" y2="547.8" stroke="#a8a8a8" stroke-width="0.75" stroke-dasharray="1.4,1.2"/>
<line x1="652.8" x2="652.8" y1="513.4" y2="547.8" stroke="#606060" stroke-width="0.75"/>
<line x1="652.8" x2="652.8" y1="513.4" y2="547.8" stroke="#a8a8a8" stroke-width="0.75" stroke-dasharray="1.4,1.2"/>
<line x1="837.0" x2="837.0" y1="513.4" y2="547.8" stroke="#606060" stroke-width="0.75"/>
<line x1="837.0" x2="837.0" y1="513.4" y2="547.8" stroke="#a8a8a8" stroke-width="0.75" stroke-dasharray="1.4,1.2"/>
<rect x="7.20" y="542.2" width="8.8" height="5.0" fill="#00f0f0"/>
<rect x="16.86" y="542.2" width="8.8" height="5.0" fill="#00f0f0"/>
<rect x="26.51" y="542.2" width="8.8" height="5.0" fill="#00f0f0"/>
<rect x="36.16" y="542.2" width="8.8" height="5.0" fill="#00f0f0"/>
<rect x="45.82" y="542.2" width="8.8" height="5.0" fill="#00f0f0"/>
<rect x="55.48" y="542.2" width="8.8" height="5.0" fill="#00f0f0"/>
<rect x="65.13" y="542.2" width="8.8" height="5.0" fill="#00f0f0"/>
<rect x="74.78" y="542.2" width="8.8" height="5.0" fill="#00f0f0"/>
<rect x="84.44" y="542.2" width="8.8" height="5.0" fill="#00f0f0"/>
<rect x="94.09" y="542.2" width="8.8" height="5.0" fill="#00f0f0"/>
<rect x="103.75" y="542.2" width="8.8" height="5.0" fill="#00f0f0"/>
<rect x="113.41" y="542.2" width="8.8" height="5.0" fill="#00f0f0"/>
<rect x="123.06" y="542.2" width="8.8" height="5.0" fill="#00f0f0"/>
<rect x="132.71" y="542.2" width="8.8" height="5.0" fill="#00f0f0"/>
<rect x="142.37" y="542.2" width="8.8" height="5.0" fill="#00f0f0"/>
<rect x="152.02" y="542.2" width="8.8" height="5.0" fill="#00f0f0"/>
<rect x="161.68" y="540.9" width="8.8" height="6.3" fill="#00f0f0"/>
<rect x="171.33" y="539.1" width="8.8" height="8.1" fill="#00f0f0"/>
<rect x="180.99" y="540.9" width="8.8" height="6.3" fill="#00f0f0"/>
<rect x="190.64" y="539.1" width="8.8" height="8.1" fill="#00f0f0"/>
<rect x="200.30" y="541.9" width="8.8" height="5.3" fill="#00f0f0"/>
<rect x="209.95" y="543.1" width="8.8" height="4.1" fill="#00f0f0"/>
<rect x="219.61" y="544.2" width="8.8" height="3.0" fill="#00f0f0"/>
<rect x="229.26" y="543.1" width="8.8" height="4.1" fill="#00f0f0"/>
<rect x="238.92" y="543.1" width="8.8" height="4.1" fill="#00f0f0"/>
<rect x="248.57" y="544.2" width="8.8" height="3.0" fill="#00f0f0"/>
<rect x="258.23" y="543.1" width="8.8" height="4.1" fill="#00f0f0"/>
<rect x="267.88" y="543.1" width="8.8" height="4.1" fill="#00f0f0"/>
<rect x="277.54" y="544.2" width="8.8" height="3.0" fill="#00f0f0"/>
<rect x="287.19" y="544.9" width="8.8" height="2.3" fill="#00f0f0"/>
<rect x="296.85" y="544.9" width="8.8" height="2.3" fill="#00f0f0"/>
<rect x="306.50" y="544.2" width="8.8" height="3.0" fill="#00f0f0"/>
<rect x="316.16" y="544.2" width="8.8" height="3.0" fill="#00f0f0"/>
<rect x="325.81" y="545.7" width="8.8" height="1.5" fill="#00f0f0"/>
<rect x="335.47" y="543.1" width="8.8" height="4.1" fill="#00f0f0"/>
<rect x="345.12" y="544.2" width="8.8" height="3.0" fill="#00f0f0"/>
<rect x="354.78" y="542.4" width="8.8" height="4.8" fill="#00f0f0"/>
<rect x="364.43" y="544.2" width="8.8" height="3.0" fill="#00f0f0"/>
<rect x="374.09" y="544.9" width="8.8" height="2.3" fill="#00f0f0"/>
<rect x="383.74" y="544.9" width="8.8" height="2.3" fill="#00f0f0"/>
<rect x="393.40" y="544.2" width="8.8" height="3.0" fill="#00f0f0"/>
<rect x="403.05" y="543.1" width="8.8" height="4.1" fill="#00f0f0"/>
<rect x="412.71" y="544.9" width="8.8" height="2.3" fill="#00f0f0"/>
<rect x="422.36" y="542.4" width="8.8" height="4.8" fill="#00f0f0"/>
<rect x="432.02" y="543.1" width="8.8" height="4.1" fill="#00f0f0"/>
<rect x="441.67" y="542.4" width="8.8" height="4.8" fill="#00f0f0"/>
<rect x="451.33" y="543.1" width="8.8" height="4.1" fill="#00f0f0"/>
<rect x="460.98" y="544.2" width="8.8" height="3.0" fill="#00f0f0"/>
<rect x="470.64" y="544.9" width="8.8" height="2.3" fill="#00f0f0"/>
<rect x="480.29" y="545.7" width="8.8" height="1.5" fill="#00f0f0"/>
<rect x="489.95" y="544.9" width="8.8" height="2.3" fill="#00f0f0"/>
<rect x="499.60" y="544.9" width="8.8" height="2.3" fill="#00f0f0"/>
<rect x="509.26" y="543.1" width="8.8" height="4.1" fill="#00f0f0"/>
<rect x="518.91" y="544.2" width="8.8" height="3.0" fill="#00f0f0"/>
<rect x="528.57" y="544.2" width="8.8" height="3.0" fill="#00f0f0"/>
<rect x="538.23" y="541.6" width="8.8" height="5.6" fill="#00f0f0"/>
<rect x="547.88" y="541.6" width="8.8" height="5.6" fill="#00f0f0"/>
<rect x="557.53" y="540.1" width="8.8" height="7.1" fill="#00f0f0"/>
<rect x="567.19" y="538.1" width="8.8" height="9.1" fill="#00f0f0"/>
<rect x="576.85" y="540.1" width="8.8" height="7.1" fill="#00f0f0"/>
<rect x="586.50" y="538.1" width="8.8" height="9.1" fill="#00f0f0"/>
<rect x="596.15" y="540.1" width="8.8" height="7.1" fill="#00f0f0"/>
<rect x="605.81" y="535.0" width="8.8" height="12.2" fill="#00f0f0"/>
<rect x="615.47" y="540.1" width="8.8" height="7.1" fill="#00f0f0"/>
<rect x="625.12" y="541.6" width="8.8" height="5.6" fill="#00f0f0"/>
<rect x="634.77" y="538.1" width="8.8" height="9.1" fill="#00f0f0"/>
<rect x="644.43" y="540.1" width="8.8" height="7.1" fill="#00f0f0"/>
<rect x="654.09" y="540.1" width="8.8" height="7.1" fill="#00f0f0"/>
<rect x="663.74" y="540.9" width="8.8" height="6.3" fill="#00f0f0"/>
<rect x="673.39" y="537.6" width="8.8" height="9.6" fill="#00f0f0"/>
<rect x="683.05" y="540.9" width="8.8" height="6.3" fill="#00f0f0"/>
<rect x="692.71" y="541.6" width="8.8" height="5.6" fill="#00f0f0"/>
<rect x="702.36" y="538.1" width="8.8" height="9.1" fill="#00f0f0"/>
<rect x="712.01" y="538.1" width="8.8" height="9.1" fill="#00f0f0"/>
<rect x="721.67" y="541.6" width="8.8" height="5.6" fill="#00f0f0"/>
<rect x="731.33" y="542.4" width="8.8" height="4.8" fill="#00f0f0"/>
<rect x="740.98" y="543.1" width="8.8" height="4.1" fill="#00f0f0"/>
<rect x="750.63" y="543.1" width="8.8" height="4.1" fill="#00f0f0"/>
<rect x="760.29" y="539.1" width="8.8" height="8.1" fill="#00f0f0"/>
<rect x="769.95" y="537.6" width="8.8" height="9.6" fill="#00f0f0"/>
<rect x="779.60" y="536.5" width="8.8" height="10.7" fill="#00f0f0"/>
<rect x="789.25" y="537.6" width="8.8" height="9.6" fill="#00f0f0"/>
<rect x="798.91" y="537.6" width="8.8" height="9.6" fill="#00f0f0"/>
<rect x="808.56" y="540.9" width="8.8" height="6.3" fill="#00f0f0"/>
<rect x="818.22" y="539.1" width="8.8" height="8.1" fill="#00f0f0"/>
<rect x="827.88" y="540.9" width="8.8" height="6.3" fill="#00f0f0"/>
<rect x="837.53" y="536.5" width="8.8" height="10.7" fill="#00f0f0"/>
<rect x="847.18" y="542.4" width="8.8" height="4.8" fill="#00f0f0"/>
<rect x="856.84" y="544.2" width="8.8" height="3.0" fill="#00f0f0"/>
<rect x="866.50" y="543.1" width="8.8" height="4.1" fill="#00f0f0"/>
<rect x="876.15" y="543.1" width="8.8" height="4.1" fill="#00f0f0"/>
<rect x="885.80" y="544.9" width="8.8" height="2.3" fill="#00f0f0"/>
<rect x="895.46" y="545.7" width="8.8" height="1.5" fill="#00f0f0"/>
<rect x="905.12" y="544.7" width="8.8" height="2.5" fill="#00f0f0"/>
<rect x="914.77" y="546.4" width="8.8" height="0.8" fill="#00f0f0"/>
</g>
<path d="M6.0,513.8 H971.5 V547.8 H6.0" fill="none" stroke="#a8a8a8" stroke-width="1.0"/>
<g clip-path="url(#ca)">
<text transform="translate(972.70,43.30) scale(0.8,1)" x="3.03 9.09 15.16 21.22 27.28 33.34" text-anchor="middle" font-size="10.67" fill="#b4b4b4" xml:space="preserve" font-family='"Liberation Sans","IPAGothic",sans-serif'>14,000</text>
<text transform="translate(972.70,71.10) scale(0.8,1)" x="3.03 9.09 15.16 21.22 27.28 33.34" text-anchor="middle" font-size="10.67" fill="#b4b4b4" xml:space="preserve" font-family='"Liberation Sans","IPAGothic",sans-serif'>13,000</text>
<text transform="translate(972.70,98.60) scale(0.8,1)" x="3.03 9.09 15.16 21.22 27.28 33.34" text-anchor="middle" font-size="10.67" fill="#b4b4b4" xml:space="preserve" font-family='"Liberation Sans","IPAGothic",sans-serif'>12,000</text>
<text transform="translate(972.70,126.20) scale(0.8,1)" x="3.03 9.09 15.16 21.22 27.28 33.34" text-anchor="middle" font-size="10.67" fill="#b4b4b4" xml:space="preserve" font-family='"Liberation Sans","IPAGothic",sans-serif'>11,000</text>
<text transform="translate(972.70,154.10) scale(0.8,1)" x="3.03 9.09 15.16 21.22 27.28 33.34" text-anchor="middle" font-size="10.67" fill="#b4b4b4" xml:space="preserve" font-family='"Liberation Sans","IPAGothic",sans-serif'>10,000</text>
<text transform="translate(972.70,181.60) scale(0.8,1)" x="3.03 9.09 15.16 21.22 27.28" text-anchor="middle" font-size="10.67" fill="#b4b4b4" xml:space="preserve" font-family='"Liberation Sans","IPAGothic",sans-serif'>9,000</text>
<text transform="translate(972.70,209.35) scale(0.8,1)" x="3.03 9.09 15.16 21.22 27.28" text-anchor="middle" font-size="10.67" fill="#b4b4b4" xml:space="preserve" font-family='"Liberation Sans","IPAGothic",sans-serif'>8,000</text>
<text transform="translate(972.70,236.50) scale(0.8,1)" x="3.03 9.09 15.16 21.22 27.28" text-anchor="middle" font-size="10.67" fill="#b4b4b4" xml:space="preserve" font-family='"Liberation Sans","IPAGothic",sans-serif'>7,000</text>
<text transform="translate(972.70,264.50) scale(0.8,1)" x="3.03 9.09 15.16 21.22 27.28" text-anchor="middle" font-size="10.67" fill="#b4b4b4" xml:space="preserve" font-family='"Liberation Sans","IPAGothic",sans-serif'>6,000</text>
</g>
<text transform="translate(972.55,302.90) scale(0.8,1)" x="3.03 9.09 15.16 21.22 27.28 33.34 39.41 45.47 51.53" text-anchor="middle" font-size="10.67" fill="#b4b4b4" xml:space="preserve" font-family='"Liberation Sans","IPAGothic",sans-serif'>1,000.000</text>
<text transform="translate(982.25,334.60) scale(0.8,1)" x="3.03 9.09 15.16 21.22 27.28 33.34 39.41" text-anchor="middle" font-size="10.67" fill="#b4b4b4" xml:space="preserve" font-family='"Liberation Sans","IPAGothic",sans-serif'>750.000</text>
<text transform="translate(982.25,367.20) scale(0.8,1)" x="3.03 9.09 15.16 21.22 27.28 33.34 39.41" text-anchor="middle" font-size="10.67" fill="#b4b4b4" xml:space="preserve" font-family='"Liberation Sans","IPAGothic",sans-serif'>500.000</text>
<text transform="translate(982.25,399.50) scale(0.8,1)" x="3.03 9.09 15.16 21.22 27.28 33.34 39.41" text-anchor="middle" font-size="10.67" fill="#b4b4b4" xml:space="preserve" font-family='"Liberation Sans","IPAGothic",sans-serif'>250.000</text>
<text transform="translate(991.95,431.80) scale(0.8,1)" x="3.03 9.09 15.16 21.22 27.28" text-anchor="middle" font-size="10.67" fill="#b4b4b4" xml:space="preserve" font-family='"Liberation Sans","IPAGothic",sans-serif'>0.000</text>
<text transform="translate(977.40,464.10) scale(0.8,1)" x="3.03 9.09 15.16 21.22 27.28 33.34 39.41 45.47" text-anchor="middle" font-size="10.67" fill="#b4b4b4" xml:space="preserve" font-family='"Liberation Sans","IPAGothic",sans-serif'>-250.000</text>
<text transform="translate(977.40,496.50) scale(0.8,1)" x="3.03 9.09 15.16 21.22 27.28 33.34 39.41 45.47" text-anchor="middle" font-size="10.67" fill="#b4b4b4" xml:space="preserve" font-family='"Liberation Sans","IPAGothic",sans-serif'>-500.000</text>
<text transform="translate(977.75,521.70) scale(0.8,1)" x="3.03 9.09 15.16 21.22 27.28" text-anchor="middle" font-size="10.67" fill="#b4b4b4" xml:space="preserve" font-family='"Liberation Sans","IPAGothic",sans-serif'>50000</text>
<text transform="translate(997.15,544.60) scale(0.8,1)" x="3.03" text-anchor="middle" font-size="10.67" fill="#b4b4b4" xml:space="preserve" font-family='"Liberation Sans","IPAGothic",sans-serif'>0</text>
<text transform="translate(56.20,285.40) scale(0.8,1)" x="3.03 9.09" text-anchor="middle" font-size="10.67" fill="#b4b4b4" xml:space="preserve" font-family='"Liberation Sans","IPAGothic",sans-serif'>10</text>
<text transform="translate(268.70,285.40) scale(0.8,1)" x="3.03 9.09" text-anchor="middle" font-size="10.67" fill="#b4b4b4" xml:space="preserve" font-family='"Liberation Sans","IPAGothic",sans-serif'>11</text>
<text transform="translate(442.80,285.40) scale(0.8,1)" x="3.03 9.09" text-anchor="middle" font-size="10.67" fill="#b4b4b4" xml:space="preserve" font-family='"Liberation Sans","IPAGothic",sans-serif'>12</text>
<text transform="translate(654.40,285.40) scale(0.8,1)" x="3.03 9.09" text-anchor="middle" font-size="10.67" fill="#b4b4b4" xml:space="preserve" font-family='"Liberation Sans","IPAGothic",sans-serif'>01</text>
<text transform="translate(838.60,285.40) scale(0.8,1)" x="3.03 9.09" text-anchor="middle" font-size="10.67" fill="#b4b4b4" xml:space="preserve" font-family='"Liberation Sans","IPAGothic",sans-serif'>02</text>
<text transform="translate(654.20,274.00) scale(0.8,1)" x="3.03 9.09 15.16 21.22" text-anchor="middle" font-size="10.67" fill="#b4b4b4" xml:space="preserve" font-family='"Liberation Sans","IPAGothic",sans-serif'>2026</text>
<rect x="972.0" y="161.0" width="47.0" height="17.1" fill="#d8d8d8"/>
<text transform="translate(981.60,171.70) scale(0.86,1)" x="3.05 9.16 15.26 21.37 27.47" text-anchor="middle" font-size="11.55" fill="#0a0a0a" font-weight="bold" stroke="#0a0a0a" stroke-width="0.45" xml:space="preserve" font-family='"Liberation Sans","IPAGothic",sans-serif'>9,506</text>
<text x="7.00" y="50.90" font-size="9.80" fill="#f2f2f2" font-family='"Liberation Sans","IPAGothic",sans-serif'>日付</text>
<text transform="translate(26.60,50.90) scale(0.8,1)" x="3.06 9.19 15.31 21.44 27.56 33.69 39.81 45.94 52.06 58.19 64.31 70.44" text-anchor="middle" font-size="10.78" fill="#f2f2f2" xml:space="preserve" font-family='"Liberation Sans","IPAGothic",sans-serif'>:2026/02/13 </text>
<text x="85.40" y="50.90" font-size="9.80" fill="#f2f2f2" font-family='"Liberation Sans","IPAGothic",sans-serif'>始値</text>
<text transform="translate(105.00,50.90) scale(0.8,1)" x="3.06 9.19 15.31 21.44 27.56 33.69 39.81 45.94" text-anchor="middle" font-size="10.78" fill="#f2f2f2" xml:space="preserve" font-family='"Liberation Sans","IPAGothic",sans-serif'>:10,103 </text>
<text x="144.20" y="50.90" font-size="9.80" fill="#f2f2f2" font-family='"Liberation Sans","IPAGothic",sans-serif'>高値</text>
<text transform="translate(163.80,50.90) scale(0.8,1)" x="3.06 9.19 15.31 21.44 27.56 33.69 39.81 45.94" text-anchor="middle" font-size="10.78" fill="#f2f2f2" xml:space="preserve" font-family='"Liberation Sans","IPAGothic",sans-serif'>:10,194 </text>
<text x="203.00" y="50.90" font-size="9.80" fill="#f2f2f2" font-family='"Liberation Sans","IPAGothic",sans-serif'>安値</text>
<text transform="translate(222.60,50.90) scale(0.8,1)" x="3.06 9.19 15.31 21.44 27.56 33.69 39.81" text-anchor="middle" font-size="10.78" fill="#f2f2f2" xml:space="preserve" font-family='"Liberation Sans","IPAGothic",sans-serif'>:9,496 </text>
<text x="256.90" y="50.90" font-size="9.80" fill="#f2f2f2" font-family='"Liberation Sans","IPAGothic",sans-serif'>終値</text>
<text transform="translate(276.50,50.90) scale(0.8,1)" x="3.06 9.19 15.31 21.44 27.56 33.69" text-anchor="middle" font-size="10.78" fill="#f2f2f2" xml:space="preserve" font-family='"Liberation Sans","IPAGothic",sans-serif'>:9,506</text>
<g>
<rect x="7.0" y="52.6" width="133.0" height="38.6" fill="#fff" stroke="#d8d8d8" stroke-width="0.6"/>
<text x="7.80" y="60.80" font-size="8.80" fill="#000" font-family='"Liberation Sans","IPAGothic",sans-serif'>移動平均</text>
<text transform="translate(43.00,60.80) scale(0.8,1)" x="2.75" text-anchor="middle" font-size="9.68" fill="#000" xml:space="preserve" font-family='"Liberation Sans","IPAGothic",sans-serif'>(</text>
<text x="47.40" y="60.80" font-size="8.80" fill="#000" font-family='"Liberation Sans","IPAGothic",sans-serif'>白金</text>
<text transform="translate(65.00,60.80) scale(0.8,1)" x="2.75" text-anchor="middle" font-size="9.68" fill="#000" xml:space="preserve" font-family='"Liberation Sans","IPAGothic",sans-serif'> </text>
<text x="69.40" y="60.80" font-size="8.80" fill="#000" font-family='"Liberation Sans","IPAGothic",sans-serif'>先限連続</text>
<text transform="translate(104.60,60.80) scale(0.8,1)" x="2.75" text-anchor="middle" font-size="9.68" fill="#000" xml:space="preserve" font-family='"Liberation Sans","IPAGothic",sans-serif'>)</text>
<path d="M124.4,60.8 L127.8,54.4 L131.2,60.8 Z" fill="none" stroke="#444" stroke-width="0.8"/>
<path d="M132.6,54.4 L139.4,60.8 M139.4,54.4 L132.6,60.8" fill="none" stroke="#444" stroke-width="0.8"/>
<line x1="7.4" x2="15.2" y1="67.1" y2="67.1" stroke="#f4f040" stroke-width="1.2"/>
<text x="16.00" y="70.35" font-size="8.80" fill="#000" font-family='"Liberation Sans","IPAGothic",sans-serif'>短期線</text>
<text transform="translate(42.40,70.35) scale(0.8,1)" x="2.75 8.25 13.75 19.25 24.75 30.25 35.75" text-anchor="middle" font-size="9.68" fill="#000" xml:space="preserve" font-family='"Liberation Sans","IPAGothic",sans-serif'>(9)(0)(</text>
<text transform="translate(42.40,70.35) scale(0.6,1)" x="55.00 62.33 69.67" text-anchor="middle" font-size="9.68" fill="#000" xml:space="preserve" font-family='"Liberation Sans","IPAGothic",sans-serif'>SMA</text>
<text transform="translate(42.40,70.35) scale(0.8,1)" x="57.75 63.25" text-anchor="middle" font-size="9.68" fill="#000" xml:space="preserve" font-family='"Liberation Sans","IPAGothic",sans-serif'>)(</text>
<text transform="translate(42.40,70.35) scale(0.6,1)" x="91.67" text-anchor="middle" font-size="9.68" fill="#000" xml:space="preserve" font-family='"Liberation Sans","IPAGothic",sans-serif'>C</text>
<text transform="translate(42.40,70.35) scale(0.8,1)" x="74.25 79.75 85.25 90.75 96.25 101.75 107.25" text-anchor="middle" font-size="9.68" fill="#000" xml:space="preserve" font-family='"Liberation Sans","IPAGothic",sans-serif'>):9,917</text>
<line x1="7.4" x2="15.2" y1="76.7" y2="76.7" stroke="#30e0ff" stroke-width="1.2"/>
<text x="16.00" y="79.90" font-size="8.80" fill="#000" font-family='"Liberation Sans","IPAGothic",sans-serif'>中期線</text>
<text transform="translate(42.40,79.90) scale(0.8,1)" x="2.75 8.25 13.75 19.25 24.75 30.25 35.75 41.25" text-anchor="middle" font-size="9.68" fill="#000" xml:space="preserve" font-family='"Liberation Sans","IPAGothic",sans-serif'>(26)(0)(</text>
<text transform="translate(42.40,79.90) scale(0.6,1)" x="62.33 69.67 77.00" text-anchor="middle" font-size="9.68" fill="#000" xml:space="preserve" font-family='"Liberation Sans","IPAGothic",sans-serif'>SMA</text>
<text transform="translate(42.40,79.90) scale(0.8,1)" x="63.25 68.75" text-anchor="middle" font-size="9.68" fill="#000" xml:space="preserve" font-family='"Liberation Sans","IPAGothic",sans-serif'>)(</text>
<text transform="translate(42.40,79.90) scale(0.6,1)" x="99.00" text-anchor="middle" font-size="9.68" fill="#000" xml:space="preserve" font-family='"Liberation Sans","IPAGothic",sans-serif'>C</text>
<text transform="translate(42.40,79.90) scale(0.8,1)" x="79.75 85.25 90.75 96.25 101.75 107.25 112.75 118.25" text-anchor="middle" font-size="9.68" fill="#000" xml:space="preserve" font-family='"Liberation Sans","IPAGothic",sans-serif'>):11,063</text>
<line x1="7.4" x2="15.2" y1="86.2" y2="86.2" stroke="#40f040" stroke-width="1.2"/>
<text x="16.00" y="89.45" font-size="8.80" fill="#000" font-family='"Liberation Sans","IPAGothic",sans-serif'>長期線</text>
<text transform="translate(42.40,89.45) scale(0.8,1)" x="2.75 8.25 13.75 19.25 24.75 30.25 35.75 41.25" text-anchor="middle" font-size="9.68" fill="#000" xml:space="preserve" font-family='"Liberation Sans","IPAGothic",sans-serif'>(52)(0)(</text>
<text transform="translate(42.40,89.45) scale(0.6,1)" x="62.33 69.67 77.00" text-anchor="middle" font-size="9.68" fill="#000" xml:space="preserve" font-family='"Liberation Sans","IPAGothic",sans-serif'>SMA</text>
<text transform="translate(42.40,89.45) scale(0.8,1)" x="63.25 68.75" text-anchor="middle" font-size="9.68" fill="#000" xml:space="preserve" font-family='"Liberation Sans","IPAGothic",sans-serif'>)(</text>
<text transform="translate(42.40,89.45) scale(0.6,1)" x="99.00" text-anchor="middle" font-size="9.68" fill="#000" xml:space="preserve" font-family='"Liberation Sans","IPAGothic",sans-serif'>C</text>
<text transform="translate(42.40,89.45) scale(0.8,1)" x="79.75 85.25 90.75 96.25 101.75 107.25 112.75" text-anchor="middle" font-size="9.68" fill="#000" xml:space="preserve" font-family='"Liberation Sans","IPAGothic",sans-serif'>):9,936</text>
</g>
<g>
<rect x="7.0" y="295.0" width="120.6" height="38.2" fill="#fff" stroke="#d8d8d8" stroke-width="0.6"/>
<text transform="translate(7.80,303.20) scale(0.6,1)" x="3.67 11.00 18.33 25.67" text-anchor="middle" font-size="9.68" fill="#000" xml:space="preserve" font-family='"Liberation Sans","IPAGothic",sans-serif'>MACD</text>
<text transform="translate(7.80,303.20) scale(0.8,1)" x="24.75" text-anchor="middle" font-size="9.68" fill="#000" xml:space="preserve" font-family='"Liberation Sans","IPAGothic",sans-serif'>(</text>
<text x="29.80" y="303.20" font-size="8.80" fill="#000" font-family='"Liberation Sans","IPAGothic",sans-serif'>白金</text>
<text transform="translate(47.40,303.20) scale(0.8,1)" x="2.75" text-anchor="middle" font-size="9.68" fill="#000" xml:space="preserve" font-family='"Liberation Sans","IPAGothic",sans-serif'> </text>
<text x="51.80" y="303.20" font-size="8.80" fill="#000" font-family='"Liberation Sans","IPAGothic",sans-serif'>先限連続</text>
<text transform="translate(87.00,303.20) scale(0.8,1)" x="2.75" text-anchor="middle" font-size="9.68" fill="#000" xml:space="preserve" font-family='"Liberation Sans","IPAGothic",sans-serif'>)</text>
<path d="M112.0,303.2 L115.4,296.8 L118.8,303.2 Z" fill="none" stroke="#444" stroke-width="0.8"/>
<path d="M120.2,296.8 L127.0,303.2 M127.0,296.8 L120.2,303.2" fill="none" stroke="#444" stroke-width="0.8"/>
<line x1="7.4" x2="15.2" y1="309.6" y2="309.6" stroke="#ff3030" stroke-width="1.2"/>
<text transform="translate(16.00,312.75) scale(0.6,1)" x="3.67 11.00 18.33 25.67" text-anchor="middle" font-size="9.68" fill="#000" xml:space="preserve" font-family='"Liberation Sans","IPAGothic",sans-serif'>MACD</text>
<text transform="translate(16.00,312.75) scale(0.8,1)" x="24.75 30.25 35.75 41.25 46.75 52.25 57.75 63.25 68.75" text-anchor="middle" font-size="9.68" fill="#000" xml:space="preserve" font-family='"Liberation Sans","IPAGothic",sans-serif'>(10)(20)(</text>
<text transform="translate(16.00,312.75) scale(0.6,1)" x="99.00" text-anchor="middle" font-size="9.68" fill="#000" xml:space="preserve" font-family='"Liberation Sans","IPAGothic",sans-serif'>C</text>
<text transform="translate(16.00,312.75) scale(0.8,1)" x="79.75 85.25 90.75 96.25 101.75 107.25 112.75 118.25 123.75 129.25 134.75" text-anchor="middle" font-size="9.68" fill="#000" xml:space="preserve" font-family='"Liberation Sans","IPAGothic",sans-serif'>):-300.8760</text>
<line x1="7.4" x2="15.2" y1="319.1" y2="319.1" stroke="#20c820" stroke-width="1.1" stroke-dasharray="2.4,1.2"/>
<text x="16.00" y="322.30" font-size="8.80" fill="#000" font-family='"Liberation Sans","IPAGothic",sans-serif'>シグナル</text>
<text transform="translate(51.20,322.30) scale(0.8,1)" x="2.75 8.25 13.75 19.25 24.75 30.25 35.75 41.25 46.75 52.25 57.75 63.25 68.75" text-anchor="middle" font-size="9.68" fill="#000" xml:space="preserve" font-family='"Liberation Sans","IPAGothic",sans-serif'>(10):-14.4059</text>
<rect x="7.4" y="328.0" width="8" height="4.2" fill="#00ffff"/>
<text transform="translate(16.00,331.85) scale(0.6,1)" x="3.67 11.00 18.33 25.67" text-anchor="middle" font-size="9.68" fill="#000" xml:space="preserve" font-family='"Liberation Sans","IPAGothic",sans-serif'>MACD</text>
<text x="33.60" y="331.85" font-size="8.80" fill="#000" font-family='"Liberation Sans","IPAGothic",sans-serif'>オシレータ</text>
<text transform="translate(77.60,331.85) scale(0.8,1)" x="2.75 8.25 13.75 19.25 24.75 30.25 35.75 41.25 46.75 52.25" text-anchor="middle" font-size="9.68" fill="#000" xml:space="preserve" font-family='"Liberation Sans","IPAGothic",sans-serif'>:-286.4701</text>
</g>
<defs><clipPath id="cl3"><rect x="5" y="513.4" width="200" height="35.0"/></clipPath></defs>
<g clip-path="url(#cl3)">
<rect x="7.0" y="514.0" width="154.8" height="40" fill="#fff" stroke="#d8d8d8" stroke-width="0.6"/>
<text x="7.80" y="522.20" font-size="8.80" fill="#000" font-family='"Liberation Sans","IPAGothic",sans-serif'>出来高</text>
<text transform="translate(34.20,522.20) scale(0.8,1)" x="2.75" text-anchor="middle" font-size="9.68" fill="#000" xml:space="preserve" font-family='"Liberation Sans","IPAGothic",sans-serif'>(</text>
<text x="38.60" y="522.20" font-size="8.80" fill="#000" font-family='"Liberation Sans","IPAGothic",sans-serif'>白金</text>
<text transform="translate(56.20,522.20) scale(0.8,1)" x="2.75" text-anchor="middle" font-size="9.68" fill="#000" xml:space="preserve" font-family='"Liberation Sans","IPAGothic",sans-serif'> </text>
<text x="60.60" y="522.20" font-size="8.80" fill="#000" font-family='"Liberation Sans","IPAGothic",sans-serif'>先限連続</text>
<text transform="translate(95.80,522.20) scale(0.8,1)" x="2.75" text-anchor="middle" font-size="9.68" fill="#000" xml:space="preserve" font-family='"Liberation Sans","IPAGothic",sans-serif'>)</text>
<path d="M146.2,522.2 L149.6,515.8 L153.0,522.2 Z" fill="none" stroke="#444" stroke-width="0.8"/>
<path d="M154.4,515.8 L161.2,522.2 M161.2,515.8 L154.4,522.2" fill="none" stroke="#444" stroke-width="0.8"/>
<rect x="7.4" y="527.9" width="8" height="4.2" fill="#00ffff"/>
<text x="16.00" y="531.75" font-size="8.80" fill="#000" font-family='"Liberation Sans","IPAGothic",sans-serif'>出来高</text>
<text transform="translate(42.40,531.75) scale(0.8,1)" x="2.75 8.25 13.75 19.25 24.75" text-anchor="middle" font-size="9.68" fill="#000" xml:space="preserve" font-family='"Liberation Sans","IPAGothic",sans-serif'>:1578</text>
<line x1="7.4" x2="15.2" y1="538.1" y2="538.1" stroke="#60f040" stroke-width="1.2"/>
<text x="16.00" y="541.30" font-size="8.80" fill="#000" font-family='"Liberation Sans","IPAGothic",sans-serif'>出来高移動平均</text>
<text transform="translate(77.60,541.30) scale(0.8,1)" x="2.75 8.25 13.75 19.25" text-anchor="middle" font-size="9.68" fill="#000" xml:space="preserve" font-family='"Liberation Sans","IPAGothic",sans-serif'>(9)(</text>
<text transform="translate(77.60,541.30) scale(0.6,1)" x="33.00 40.33 47.67" text-anchor="middle" font-size="9.68" fill="#000" xml:space="preserve" font-family='"Liberation Sans","IPAGothic",sans-serif'>SMA</text>
<text transform="translate(77.60,541.30) scale(0.8,1)" x="41.25 46.75 52.25 57.75 63.25 68.75" text-anchor="middle" font-size="9.68" fill="#000" xml:space="preserve" font-family='"Liberation Sans","IPAGothic",sans-serif'>):7600</text>
<line x1="7.4" x2="15.2" y1="547.6" y2="547.6" stroke="#ff80ff" stroke-width="1.2"/>
<text transform="translate(16.00,550.85) scale(0.6,1)" x="3.67" text-anchor="middle" font-size="9.68" fill="#000" xml:space="preserve" font-family='"Liberation Sans","IPAGothic",sans-serif'>S</text>
<text transform="translate(16.00,550.85) scale(0.8,1)" x="8.25 13.75" text-anchor="middle" font-size="9.68" fill="#000" xml:space="preserve" font-family='"Liberation Sans","IPAGothic",sans-serif'>lo</text>
<text transform="translate(16.00,550.85) scale(0.6,1)" x="25.67" text-anchor="middle" font-size="9.68" fill="#000" xml:space="preserve" font-family='"Liberation Sans","IPAGothic",sans-serif'>w</text>
<text x="33.60" y="550.85" font-size="8.80" fill="#000" font-family='"Liberation Sans","IPAGothic",sans-serif'>出来高移動平均</text>
<text transform="translate(95.20,550.85) scale(0.8,1)" x="2.75 8.25 13.75 19.25 24.75" text-anchor="middle" font-size="9.68" fill="#000" xml:space="preserve" font-family='"Liberation Sans","IPAGothic",sans-serif'>(26)(</text>
<text transform="translate(95.20,550.85) scale(0.6,1)" x="40.33 47.67 55.00" text-anchor="middle" font-size="9.68" fill="#000" xml:space="preserve" font-family='"Liberation Sans","IPAGothic",sans-serif'>SMA</text>
<text transform="translate(95.20,550.85) scale(0.8,1)" x="46.75 52.25 57.75 63.25 68.75 74.25 79.75" text-anchor="middle" font-size="9.68" fill="#000" xml:space="preserve" font-family='"Liberation Sans","IPAGothic",sans-serif'>):12405</text>
</g>
</svg>
<svg width="1024" height="555" viewBox="0 0 1024 555" style="position:absolute;left:0;top:0"><defs><linearGradient id="btn" x1="0" y1="0" x2="0" y2="1"><stop offset="0" stop-color="#f2f2f2"/><stop offset="1" stop-color="#d2d2d2"/></linearGradient></defs><rect x="8.4" y="7.2" width="10.6" height="11" fill="#ececec"/>
<path d="M8.5,7.2 V18.2 H19" fill="none" stroke="#8a8a8a" stroke-width="0.9"/>
<polyline points="9.5,15.9 11.7,13 13.4,14.6 14.6,11 16.5,9.4 18.3,13.2" fill="none" stroke="#4aa0f0" stroke-width="1.2"/>
<polyline points="9.1,15.4 11.3,12.2 13.1,13.9 14.3,10.3 16.3,8.5 18.4,12.6" fill="none" stroke="#f04262" stroke-width="1.2"/>
<g stroke="#7c7c7c" stroke-width="1.3" fill="none"><rect x="924.8" y="11" width="6.4" height="3.8" rx="1.9" transform="rotate(-42 928 12.9)"/><rect x="928.4" y="10.2" width="6.4" height="3.8" rx="1.9" transform="rotate(-42 931.6 12.1)"/><line x1="925.2" y1="17.6" x2="934.8" y2="7.4" stroke-width="0.8"/></g>
<g stroke="#7e7e7e" fill="none"><path d="M949.6,9.4 A4.7,4.7 0 1 0 950.6,15.2" stroke-width="2"/><path d="M947.6,6.8 L951.8,8.8 L948.4,11.4 Z" fill="#7e7e7e" stroke="none"/><rect x="946.2" y="13" width="5" height="3.2" fill="#fafafa" stroke="#6e6e6e" stroke-width="0.9"/></g>
<g stroke="#868686" stroke-width="1.1" fill="#dcdcdc"><rect x="956.4" y="8" width="8.4" height="9.8" rx="0.6"/><rect x="959.6" y="10.6" width="8" height="5.8" rx="1.2" stroke="#7a7a7a" stroke-width="1.3"/></g>
<rect x="974.2" y="6.4" width="13" height="13.1" rx="1.6" fill="url(#btn)" stroke="#9c9c9c" stroke-width="0.9"/>
<rect x="990.3" y="6.4" width="13" height="13.1" rx="1.6" fill="url(#btn)" stroke="#9c9c9c" stroke-width="0.9"/>
<rect x="1006.3" y="6.4" width="13" height="13.1" rx="1.6" fill="url(#btn)" stroke="#9c9c9c" stroke-width="0.9"/>
<line x1="978.2" x2="982.8" y1="15.4" y2="15.4" stroke="#505050" stroke-width="1.4"/>
<rect x="993.9" y="9.7" width="6" height="5.8" fill="none" stroke="#505050" stroke-width="1.2"/>
<path d="M1009.8,9.8 L1016,16 M1016,9.8 L1009.8,16" stroke="#505050" stroke-width="1.3" fill="none"/>
<path d="M107.6,29.6 h4.2 l-2.1,2.4 z" fill="#222"/>
<rect x="115.8" y="24.1" width="36" height="13.5" fill="#fff"/>
<rect x="140.2" y="25" width="10.2" height="5.1" fill="#eeeeee" stroke="#b4b4b4" stroke-width="0.6"/>
<rect x="140.2" y="30.7" width="10.2" height="5" fill="#eeeeee" stroke="#b4b4b4" stroke-width="0.6"/>
<path d="M143.2,28.9 l2.1,-2.3 l2.1,2.3 z M143.2,32.2 l2.1,2.3 l2.1,-2.3 z" fill="#1a1a1a"/>
<line x1="156.2" x2="156.2" y1="25" y2="37" stroke="#f4f6fa" stroke-width="1.2"/>
<line x1="155.29999999999998" x2="155.29999999999998" y1="25.6" y2="37" stroke="#bcc2ce" stroke-width="0.6"/>
<line x1="234.1" x2="234.1" y1="25" y2="37" stroke="#f4f6fa" stroke-width="1.2"/>
<line x1="233.2" x2="233.2" y1="25.6" y2="37" stroke="#bcc2ce" stroke-width="0.6"/>
<line x1="275.4" x2="275.4" y1="25" y2="37" stroke="#f4f6fa" stroke-width="1.2"/>
<line x1="274.5" x2="274.5" y1="25.6" y2="37" stroke="#bcc2ce" stroke-width="0.6"/>
<line x1="334.8" x2="334.8" y1="25" y2="37" stroke="#f4f6fa" stroke-width="1.2"/>
<line x1="333.90000000000003" x2="333.90000000000003" y1="25.6" y2="37" stroke="#bcc2ce" stroke-width="0.6"/>
<line x1="474" x2="474" y1="25" y2="37" stroke="#f4f6fa" stroke-width="1.2"/>
<line x1="473.1" x2="473.1" y1="25.6" y2="37" stroke="#bcc2ce" stroke-width="0.6"/>
<path d="M160,25.4 L160.6,34.4 L163,32.2 L165.6,35.4 L167,34.2 L164.6,31.2 L168,30 Z" fill="#c0b2f2" stroke="#6a4cc4" stroke-width="1"/>
<path d="M179,30.6 q-1.6,-1.6 -0.4,-2.4 q1,-0.4 2,1.2 l0,-3.2 q0.8,-1.2 1.6,0 l0.2,-0.8 q0.9,-1 1.7,0.2 l0.2,0.4 q0.9,-0.8 1.6,0.4 l0.2,1 q0.9,-0.4 1.2,0.8 l0,4 q-0.2,2 -1.6,3.2 l-3.6,0 q-1.6,-1.4 -3.1,-4.8 z" fill="#ffe6c0" stroke="#dc9238" stroke-width="1"/>
<path d="M196.2,35 L197.4,31.4 L204.2,25 L206.6,27.2 L199.8,33.8 Z" fill="#ffc878" stroke="#e8963c" stroke-width="0.9"/><path d="M196.2,35 L197.2,32.4 L198.8,33.9 Z" fill="#b06a20"/>
<rect x="213.4" y="23.6" width="13" height="13.3" fill="#a6aab4"/><path d="M213.4,36.9 V23.6 H226.4" fill="none" stroke="#8c909a" stroke-width="0.8"/>
<path d="M215.4,35.6 L216.6,32 L223.2,25.8 L225.8,28.2 L219.2,34.4 Z" fill="#4c8cec" stroke="#2c66c8" stroke-width="0.8"/><path d="M217.6,32.6 L223.4,27.2" stroke="#9cc4ff" stroke-width="0.9"/><path d="M220.6,33.2 q2,-2.6 4.4,-1 q1.6,1.8 -0.8,3 q-2.4,0.6 -3.6,-2 z" fill="#1c3c98"/>
<rect x="236.7" y="23.6" width="12.8" height="13.3" fill="#b4b8c2"/><path d="M236.7,36.9 V23.6 H249.5" fill="none" stroke="#8c909a" stroke-width="0.8"/>
<path d="M240.8,24 V36.6 M237,28 H249.4" stroke="#5a4cc0" stroke-width="0.9" fill="none"/><path d="M243,30.2 h4 l-1.3,1.3 l2.6,2.6 l-1.3,1.3 l-2.6,-2.6 l-1.4,1.4 z" fill="#9030c4"/>
<circle cx="261.1" cy="30.3" r="5.9" fill="#46a6e2"/><circle cx="261.1" cy="30.3" r="5.5" fill="none" stroke="#7cc6f0" stroke-width="0.9"/><path d="M258.2,32.2 L261.1,28.9 L264,32.2" fill="none" stroke="#fff" stroke-width="1.5"/>
<rect x="279.2" y="25.2" width="10.6" height="10.6" fill="#fbfbff" stroke="#2c5cc0" stroke-width="1"/><rect x="278.9" y="24.8" width="11.2" height="1.6" fill="#2c5cc0"/><path d="M279.6,29 H289.4 M279.6,32 H289.4 M282.4,26.4 V35.4 M285.8,30 V35.4" stroke="#b4bcd0" stroke-width="0.6"/><path d="M284,30.8 q0.8,-3 4.6,-3.4" stroke="#f03030" stroke-width="1.6" fill="none"/><rect x="289" y="24.8" width="1.2" height="1.2" fill="#e83030"/>
<rect x="296.9" y="25.2" width="11.4" height="10.8" fill="#f2f4f8"/><g stroke="#2c5cc0" stroke-width="1.1"><path d="M296.9,25.6 H308.3 M296.9,28.9 H308.3 M296.9,32.1 H308.3 M296.9,35.6 H308.3"/></g><g stroke="#9aa6bc" stroke-width="0.9"><path d="M298.4,27.3 h1.8 m1.4,0 h1.8 m1.4,0 h1.8 M298.4,30.5 h1.8 m1.4,0 h1.8 m1.4,0 h1.8 M299,33.9 h1.6 m1.2,0 h1.6 m1.2,0 h1.6"/></g>
<rect x="315.2" y="25" width="11.8" height="11" fill="#3464c8"/>
<rect x="316.1" y="26.0" width="2.9" height="2.5" fill="#e6eaf2"/>
<rect x="319.9" y="26.0" width="2.9" height="2.5" fill="#e6eaf2"/>
<rect x="323.6" y="26.0" width="2.9" height="2.5" fill="#e6eaf2"/>
<rect x="316.1" y="29.4" width="2.9" height="2.5" fill="#f2c4cc"/>
<rect x="319.9" y="29.4" width="2.9" height="2.5" fill="#f2c4cc"/>
<rect x="323.6" y="29.4" width="2.9" height="2.5" fill="#f2c4cc"/>
<rect x="316.1" y="32.8" width="2.9" height="2.5" fill="#e6eaf2"/>
<rect x="319.9" y="32.8" width="2.9" height="2.5" fill="#e6eaf2"/>
<rect x="323.6" y="32.8" width="2.9" height="2.5" fill="#e6eaf2"/>
<rect x="339.4" y="25.1" width="11.2" height="10.5" fill="#e3e7ef"/><path d="M339.79999999999995,25.2 V35.4 H350.59999999999997" fill="none" stroke="#8e949e" stroke-width="0.8"/><g fill="#2c8af4"><rect x="341.29999999999995" y="31" width="1.7" height="4"/><rect x="343.4" y="26.6" width="1.9" height="8.4"/><rect x="346.0" y="28.2" width="1.7" height="6.8"/><rect x="348.4" y="31.6" width="1.6" height="3.4"/></g>
<path d="M353.3,29.5 h4.2 l-2.1,2.4 z" fill="#222"/>
<rect x="362" y="25.1" width="11.2" height="10.5" fill="#e3e7ef"/><path d="M362.4,25.2 V35.4 H373.2" fill="none" stroke="#8e949e" stroke-width="0.8"/><g fill="#2c8af4"><rect x="363.9" y="31" width="1.7" height="4"/><rect x="366" y="26.6" width="1.9" height="8.4"/><rect x="368.6" y="28.2" width="1.7" height="6.8"/><rect x="371" y="31.6" width="1.6" height="3.4"/></g>
<path d="M363.2,26.6 L371.4,34.6 M371.4,26.6 L363.2,34.6" stroke="#f03048" stroke-width="1.4" fill="none"/>
<rect x="380.3" y="25.1" width="11.2" height="10.5" fill="#e3e7ef"/><path d="M380.7,25.2 V35.4 H391.5" fill="none" stroke="#8e949e" stroke-width="0.8"/><g fill="#2c8af4"><rect x="382.2" y="31" width="1.7" height="4"/><rect x="384.3" y="26.6" width="1.9" height="8.4"/><rect x="386.90000000000003" y="28.2" width="1.7" height="6.8"/><rect x="389.3" y="31.6" width="1.6" height="3.4"/></g>
<rect x="387.5" y="29" width="4.2" height="5.2" fill="#f0f3fa"/>
<text x="387.90000000000003" y="33.8" font-size="5.6" font-weight="bold" fill="#1a4ab0" font-family='"Liberation Sans",sans-serif'>1</text>
<rect x="398.6" y="25.1" width="11.2" height="10.5" fill="#e3e7ef"/><path d="M399.0,25.2 V35.4 H409.8" fill="none" stroke="#8e949e" stroke-width="0.8"/><g fill="#2c8af4"><rect x="400.5" y="31" width="1.7" height="4"/><rect x="402.6" y="26.6" width="1.9" height="8.4"/><rect x="405.20000000000005" y="28.2" width="1.7" height="6.8"/><rect x="407.6" y="31.6" width="1.6" height="3.4"/></g>
<rect x="405.8" y="29" width="4.2" height="5.2" fill="#f0f3fa"/>
<text x="406.20000000000005" y="33.8" font-size="5.6" font-weight="bold" fill="#1a4ab0" font-family='"Liberation Sans",sans-serif'>2</text>
<rect x="417" y="25.1" width="11.2" height="10.5" fill="#e3e7ef"/><path d="M417.4,25.2 V35.4 H428.2" fill="none" stroke="#8e949e" stroke-width="0.8"/><g fill="#2c8af4"><rect x="418.9" y="31" width="1.7" height="4"/><rect x="421" y="26.6" width="1.9" height="8.4"/><rect x="423.6" y="28.2" width="1.7" height="6.8"/><rect x="426" y="31.6" width="1.6" height="3.4"/></g>
<rect x="424.2" y="29" width="4.2" height="5.2" fill="#f0f3fa"/>
<text x="424.6" y="33.8" font-size="5.6" font-weight="bold" fill="#1a4ab0" font-family='"Liberation Sans",sans-serif'>3</text>
<rect x="435.5" y="25.1" width="11.2" height="10.5" fill="#e3e7ef"/><path d="M435.9,25.2 V35.4 H446.7" fill="none" stroke="#8e949e" stroke-width="0.8"/><g fill="#2c8af4"><rect x="437.4" y="31" width="1.7" height="4"/><rect x="439.5" y="26.6" width="1.9" height="8.4"/><rect x="442.1" y="28.2" width="1.7" height="6.8"/><rect x="444.5" y="31.6" width="1.6" height="3.4"/></g>
<rect x="442.7" y="29" width="4.2" height="5.2" fill="#f0f3fa"/>
<text x="443.1" y="33.8" font-size="5.6" font-weight="bold" fill="#1a4ab0" font-family='"Liberation Sans",sans-serif'>4</text>
<rect x="453.8" y="25.1" width="11.2" height="10.5" fill="#e3e7ef"/><path d="M454.2,25.2 V35.4 H465.0" fill="none" stroke="#8e949e" stroke-width="0.8"/><g fill="#2c8af4"><rect x="455.7" y="31" width="1.7" height="4"/><rect x="457.8" y="26.6" width="1.9" height="8.4"/><rect x="460.40000000000003" y="28.2" width="1.7" height="6.8"/><rect x="462.8" y="31.6" width="1.6" height="3.4"/></g>
<rect x="461.0" y="29" width="4.2" height="5.2" fill="#f0f3fa"/>
<text x="461.40000000000003" y="33.8" font-size="5.6" font-weight="bold" fill="#1a4ab0" font-family='"Liberation Sans",sans-serif'>5</text>
<path d="M482.6,26.4 A4.8,4.8 0 1 0 486.4,33.8" fill="none" stroke="#2a8ae0" stroke-width="2"/><path d="M479.6,24.6 L484.4,25.8 L481.2,29.2 Z" fill="#2a8ae0"/>
<text x="483" y="32.8" font-size="7.2" font-weight="bold" fill="#2a6ad0" font-family='"Liberation Sans",sans-serif'>R</text>
<g transform="translate(1006.6,31.4) rotate(42)"><rect x="-1.35" y="-1" width="2.7" height="8" rx="1.3" fill="#5a50f2"/><path d="M1.6,-6.3 A2.7,2.7 0 1 1 -1.6,-6.3" fill="none" stroke="#9c94f4" stroke-width="2.1"/><path d="M-2.5,-2.4 a2.6,2.6 0 0 1 -0.4,-2.8" fill="none" stroke="#f4f2ff" stroke-width="0.9"/></g></svg>
<div class="t" style="left:24px;top:7.6px;font-size:9.7px;color:#000">白金[先限連続]</div>
<div class="t" style="left:9.2px;top:26.1px;font-size:9.7px;color:#1c1c30">白金</div>
<div class="t" style="left:36.6px;top:26.1px;font-size:9.7px;color:#1c1c30">先限連続</div>
<div class="t" style="left:84.4px;top:26.1px;font-size:9.7px;color:#1c1c30">日足</div>
<div class="t" style="left:117.8px;top:25.5px;font-size:10.2px;letter-spacing:0.6px;color:#333;transform:scaleX(0.74);transform-origin:left">100</div>
</body></html>
